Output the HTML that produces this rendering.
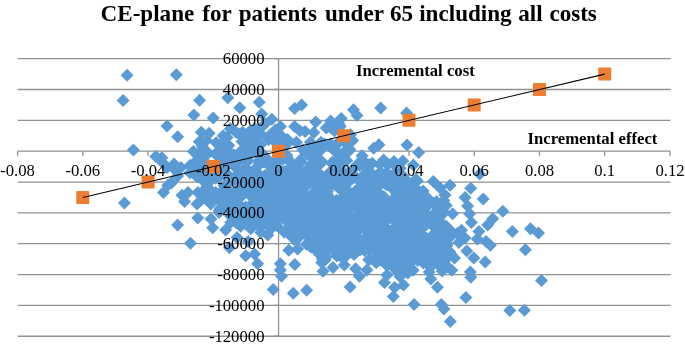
<!DOCTYPE html>
<html lang="en"><head><meta charset="utf-8"><title>CE-plane for patients under 65 including all costs</title>
<style>html,body{margin:0;padding:0;background:#fff}svg{display:block;will-change:transform}text{font-family:"Liberation Serif",serif;fill:#000}</style></head><body>
<svg width="685" height="347" viewBox="0 0 685 347">
<rect width="685" height="347" fill="#fff"/>
<path d="M17.6 58.66H670.6M17.6 89.50H670.6M17.6 120.35H670.6M17.6 182.03H670.6M17.6 212.88H670.6M17.6 243.72H670.6M17.6 274.56H670.6M17.6 305.40H670.6M17.6 336.25H670.6" stroke="#929292" stroke-width="1.3" fill="none"/>
<path d="M17.6 151.19H670.6M278.54 58.7V336.2M17.60 151.19v4.6M82.84 151.19v4.6M148.07 151.19v4.6M213.30 151.19v4.6M278.54 151.19v4.6M343.78 151.19v4.6M409.01 151.19v4.6M474.25 151.19v4.6M539.48 151.19v4.6M604.72 151.19v4.6M669.95 151.19v4.6M278.54 58.66h-4.5M278.54 89.50h-4.5M278.54 120.35h-4.5M278.54 151.19h-4.5M278.54 182.03h-4.5M278.54 212.88h-4.5M278.54 243.72h-4.5M278.54 274.56h-4.5M278.54 305.40h-4.5M278.54 336.25h-4.5" stroke="#929292" stroke-width="1.3" fill="none"/>
<path d="M210.8 197.6l6.5 6.5-6.5 6.5-6.5-6.5zM207.1 193.2l6.5 6.5-6.5 6.5-6.5-6.5zM438.4 204.0l6.5 6.5-6.5 6.5-6.5-6.5zM343.2 213.5l6.5 6.5-6.5 6.5-6.5-6.5zM334.4 124.2l6.5 6.5-6.5 6.5-6.5-6.5zM273.7 205.3l6.5 6.5-6.5 6.5-6.5-6.5zM231.5 190.3l6.5 6.5-6.5 6.5-6.5-6.5zM365.7 233.0l6.5 6.5-6.5 6.5-6.5-6.5zM372.8 206.6l6.5 6.5-6.5 6.5-6.5-6.5zM312.0 140.5l6.5 6.5-6.5 6.5-6.5-6.5zM308.8 199.7l6.5 6.5-6.5 6.5-6.5-6.5zM405.0 248.4l6.5 6.5-6.5 6.5-6.5-6.5zM237.8 150.5l6.5 6.5-6.5 6.5-6.5-6.5zM318.1 205.8l6.5 6.5-6.5 6.5-6.5-6.5zM371.5 194.4l6.5 6.5-6.5 6.5-6.5-6.5zM399.4 175.3l6.5 6.5-6.5 6.5-6.5-6.5zM282.3 170.9l6.5 6.5-6.5 6.5-6.5-6.5zM313.2 189.5l6.5 6.5-6.5 6.5-6.5-6.5zM218.6 167.6l6.5 6.5-6.5 6.5-6.5-6.5zM259.9 171.3l6.5 6.5-6.5 6.5-6.5-6.5zM392.7 197.1l6.5 6.5-6.5 6.5-6.5-6.5zM404.8 229.2l6.5 6.5-6.5 6.5-6.5-6.5zM326.6 169.6l6.5 6.5-6.5 6.5-6.5-6.5zM286.8 148.7l6.5 6.5-6.5 6.5-6.5-6.5zM426.1 244.8l6.5 6.5-6.5 6.5-6.5-6.5zM361.8 238.4l6.5 6.5-6.5 6.5-6.5-6.5zM395.4 230.8l6.5 6.5-6.5 6.5-6.5-6.5zM283.1 199.5l6.5 6.5-6.5 6.5-6.5-6.5zM257.5 159.9l6.5 6.5-6.5 6.5-6.5-6.5zM284.0 185.5l6.5 6.5-6.5 6.5-6.5-6.5zM315.1 226.9l6.5 6.5-6.5 6.5-6.5-6.5zM276.8 194.8l6.5 6.5-6.5 6.5-6.5-6.5zM337.7 153.0l6.5 6.5-6.5 6.5-6.5-6.5zM392.8 193.2l6.5 6.5-6.5 6.5-6.5-6.5zM389.6 255.9l6.5 6.5-6.5 6.5-6.5-6.5zM351.3 192.9l6.5 6.5-6.5 6.5-6.5-6.5zM372.1 184.6l6.5 6.5-6.5 6.5-6.5-6.5zM223.6 183.0l6.5 6.5-6.5 6.5-6.5-6.5zM395.8 253.5l6.5 6.5-6.5 6.5-6.5-6.5zM378.2 216.8l6.5 6.5-6.5 6.5-6.5-6.5zM304.2 194.4l6.5 6.5-6.5 6.5-6.5-6.5zM278.2 211.2l6.5 6.5-6.5 6.5-6.5-6.5zM397.0 265.1l6.5 6.5-6.5 6.5-6.5-6.5zM429.0 241.4l6.5 6.5-6.5 6.5-6.5-6.5zM340.4 223.1l6.5 6.5-6.5 6.5-6.5-6.5zM357.0 238.8l6.5 6.5-6.5 6.5-6.5-6.5zM416.3 184.8l6.5 6.5-6.5 6.5-6.5-6.5zM254.0 131.5l6.5 6.5-6.5 6.5-6.5-6.5zM205.1 145.8l6.5 6.5-6.5 6.5-6.5-6.5zM267.4 192.0l6.5 6.5-6.5 6.5-6.5-6.5zM404.9 181.5l6.5 6.5-6.5 6.5-6.5-6.5zM375.7 213.1l6.5 6.5-6.5 6.5-6.5-6.5zM258.5 139.8l6.5 6.5-6.5 6.5-6.5-6.5zM410.7 249.4l6.5 6.5-6.5 6.5-6.5-6.5zM265.3 152.0l6.5 6.5-6.5 6.5-6.5-6.5zM315.4 192.4l6.5 6.5-6.5 6.5-6.5-6.5zM329.6 230.8l6.5 6.5-6.5 6.5-6.5-6.5zM378.2 250.8l6.5 6.5-6.5 6.5-6.5-6.5zM409.2 252.8l6.5 6.5-6.5 6.5-6.5-6.5zM382.8 240.4l6.5 6.5-6.5 6.5-6.5-6.5zM401.2 242.6l6.5 6.5-6.5 6.5-6.5-6.5zM424.1 220.3l6.5 6.5-6.5 6.5-6.5-6.5zM337.2 211.8l6.5 6.5-6.5 6.5-6.5-6.5zM369.0 190.3l6.5 6.5-6.5 6.5-6.5-6.5zM399.4 230.5l6.5 6.5-6.5 6.5-6.5-6.5zM331.2 216.7l6.5 6.5-6.5 6.5-6.5-6.5zM383.6 153.6l6.5 6.5-6.5 6.5-6.5-6.5zM291.5 188.7l6.5 6.5-6.5 6.5-6.5-6.5zM391.4 210.1l6.5 6.5-6.5 6.5-6.5-6.5zM312.8 186.8l6.5 6.5-6.5 6.5-6.5-6.5zM405.2 264.6l6.5 6.5-6.5 6.5-6.5-6.5zM246.8 204.6l6.5 6.5-6.5 6.5-6.5-6.5zM309.2 161.3l6.5 6.5-6.5 6.5-6.5-6.5zM267.4 172.2l6.5 6.5-6.5 6.5-6.5-6.5zM285.8 180.8l6.5 6.5-6.5 6.5-6.5-6.5zM421.9 240.4l6.5 6.5-6.5 6.5-6.5-6.5zM334.8 226.0l6.5 6.5-6.5 6.5-6.5-6.5zM359.6 158.9l6.5 6.5-6.5 6.5-6.5-6.5zM314.8 167.8l6.5 6.5-6.5 6.5-6.5-6.5zM259.6 216.2l6.5 6.5-6.5 6.5-6.5-6.5zM336.9 175.6l6.5 6.5-6.5 6.5-6.5-6.5zM228.3 144.3l6.5 6.5-6.5 6.5-6.5-6.5zM259.2 202.8l6.5 6.5-6.5 6.5-6.5-6.5zM386.9 178.5l6.5 6.5-6.5 6.5-6.5-6.5zM328.3 172.9l6.5 6.5-6.5 6.5-6.5-6.5zM224.7 192.5l6.5 6.5-6.5 6.5-6.5-6.5zM412.7 249.8l6.5 6.5-6.5 6.5-6.5-6.5zM379.7 214.8l6.5 6.5-6.5 6.5-6.5-6.5zM310.9 200.0l6.5 6.5-6.5 6.5-6.5-6.5zM431.2 214.6l6.5 6.5-6.5 6.5-6.5-6.5zM315.6 150.9l6.5 6.5-6.5 6.5-6.5-6.5zM441.8 223.7l6.5 6.5-6.5 6.5-6.5-6.5zM367.4 179.6l6.5 6.5-6.5 6.5-6.5-6.5zM301.3 220.3l6.5 6.5-6.5 6.5-6.5-6.5zM399.2 229.1l6.5 6.5-6.5 6.5-6.5-6.5zM320.9 143.5l6.5 6.5-6.5 6.5-6.5-6.5zM300.4 217.6l6.5 6.5-6.5 6.5-6.5-6.5zM230.1 175.5l6.5 6.5-6.5 6.5-6.5-6.5zM364.8 173.2l6.5 6.5-6.5 6.5-6.5-6.5zM278.2 140.7l6.5 6.5-6.5 6.5-6.5-6.5zM405.7 181.5l6.5 6.5-6.5 6.5-6.5-6.5zM386.3 253.8l6.5 6.5-6.5 6.5-6.5-6.5zM274.3 157.2l6.5 6.5-6.5 6.5-6.5-6.5zM388.5 256.6l6.5 6.5-6.5 6.5-6.5-6.5zM257.3 181.1l6.5 6.5-6.5 6.5-6.5-6.5zM400.7 229.0l6.5 6.5-6.5 6.5-6.5-6.5zM392.9 208.6l6.5 6.5-6.5 6.5-6.5-6.5zM256.3 124.5l6.5 6.5-6.5 6.5-6.5-6.5zM260.9 127.5l6.5 6.5-6.5 6.5-6.5-6.5zM321.6 224.5l6.5 6.5-6.5 6.5-6.5-6.5zM252.9 179.1l6.5 6.5-6.5 6.5-6.5-6.5zM367.3 230.4l6.5 6.5-6.5 6.5-6.5-6.5zM243.8 152.9l6.5 6.5-6.5 6.5-6.5-6.5zM342.4 165.1l6.5 6.5-6.5 6.5-6.5-6.5zM410.5 256.2l6.5 6.5-6.5 6.5-6.5-6.5zM268.4 133.0l6.5 6.5-6.5 6.5-6.5-6.5zM347.0 210.6l6.5 6.5-6.5 6.5-6.5-6.5zM287.9 136.4l6.5 6.5-6.5 6.5-6.5-6.5zM258.3 207.4l6.5 6.5-6.5 6.5-6.5-6.5zM277.1 219.6l6.5 6.5-6.5 6.5-6.5-6.5zM334.5 124.3l6.5 6.5-6.5 6.5-6.5-6.5zM294.8 199.8l6.5 6.5-6.5 6.5-6.5-6.5zM298.5 158.4l6.5 6.5-6.5 6.5-6.5-6.5zM339.3 169.9l6.5 6.5-6.5 6.5-6.5-6.5zM311.8 139.7l6.5 6.5-6.5 6.5-6.5-6.5zM335.4 213.8l6.5 6.5-6.5 6.5-6.5-6.5zM288.4 192.7l6.5 6.5-6.5 6.5-6.5-6.5zM353.3 242.3l6.5 6.5-6.5 6.5-6.5-6.5zM248.7 176.5l6.5 6.5-6.5 6.5-6.5-6.5zM380.5 253.6l6.5 6.5-6.5 6.5-6.5-6.5zM338.2 231.9l6.5 6.5-6.5 6.5-6.5-6.5zM347.9 199.8l6.5 6.5-6.5 6.5-6.5-6.5zM271.6 179.6l6.5 6.5-6.5 6.5-6.5-6.5zM302.7 216.6l6.5 6.5-6.5 6.5-6.5-6.5zM352.9 190.4l6.5 6.5-6.5 6.5-6.5-6.5zM390.5 235.4l6.5 6.5-6.5 6.5-6.5-6.5zM238.7 187.8l6.5 6.5-6.5 6.5-6.5-6.5zM225.4 181.2l6.5 6.5-6.5 6.5-6.5-6.5zM306.9 193.6l6.5 6.5-6.5 6.5-6.5-6.5zM382.7 235.0l6.5 6.5-6.5 6.5-6.5-6.5zM206.1 192.6l6.5 6.5-6.5 6.5-6.5-6.5zM382.3 240.8l6.5 6.5-6.5 6.5-6.5-6.5zM368.7 253.3l6.5 6.5-6.5 6.5-6.5-6.5zM330.0 213.1l6.5 6.5-6.5 6.5-6.5-6.5zM419.0 200.6l6.5 6.5-6.5 6.5-6.5-6.5zM344.3 217.4l6.5 6.5-6.5 6.5-6.5-6.5zM230.8 210.0l6.5 6.5-6.5 6.5-6.5-6.5zM325.3 253.3l6.5 6.5-6.5 6.5-6.5-6.5zM251.1 215.7l6.5 6.5-6.5 6.5-6.5-6.5zM219.7 169.9l6.5 6.5-6.5 6.5-6.5-6.5zM343.7 205.8l6.5 6.5-6.5 6.5-6.5-6.5zM354.2 188.1l6.5 6.5-6.5 6.5-6.5-6.5zM418.5 235.7l6.5 6.5-6.5 6.5-6.5-6.5zM359.7 201.7l6.5 6.5-6.5 6.5-6.5-6.5zM243.9 208.8l6.5 6.5-6.5 6.5-6.5-6.5zM358.8 240.6l6.5 6.5-6.5 6.5-6.5-6.5zM272.4 161.0l6.5 6.5-6.5 6.5-6.5-6.5zM423.2 235.9l6.5 6.5-6.5 6.5-6.5-6.5zM309.6 149.5l6.5 6.5-6.5 6.5-6.5-6.5zM386.9 222.2l6.5 6.5-6.5 6.5-6.5-6.5zM356.0 221.9l6.5 6.5-6.5 6.5-6.5-6.5zM410.3 222.6l6.5 6.5-6.5 6.5-6.5-6.5zM305.7 226.8l6.5 6.5-6.5 6.5-6.5-6.5zM281.7 136.5l6.5 6.5-6.5 6.5-6.5-6.5zM356.8 222.5l6.5 6.5-6.5 6.5-6.5-6.5zM405.1 252.6l6.5 6.5-6.5 6.5-6.5-6.5zM219.9 146.4l6.5 6.5-6.5 6.5-6.5-6.5zM403.1 212.8l6.5 6.5-6.5 6.5-6.5-6.5zM356.2 159.0l6.5 6.5-6.5 6.5-6.5-6.5zM245.3 164.0l6.5 6.5-6.5 6.5-6.5-6.5zM378.1 171.5l6.5 6.5-6.5 6.5-6.5-6.5zM240.0 191.2l6.5 6.5-6.5 6.5-6.5-6.5zM373.3 236.5l6.5 6.5-6.5 6.5-6.5-6.5zM284.5 176.7l6.5 6.5-6.5 6.5-6.5-6.5zM252.7 185.9l6.5 6.5-6.5 6.5-6.5-6.5zM388.2 231.2l6.5 6.5-6.5 6.5-6.5-6.5zM282.6 165.1l6.5 6.5-6.5 6.5-6.5-6.5zM411.2 217.1l6.5 6.5-6.5 6.5-6.5-6.5zM232.6 152.9l6.5 6.5-6.5 6.5-6.5-6.5zM398.7 228.2l6.5 6.5-6.5 6.5-6.5-6.5zM243.0 213.4l6.5 6.5-6.5 6.5-6.5-6.5zM245.7 174.7l6.5 6.5-6.5 6.5-6.5-6.5zM372.3 192.1l6.5 6.5-6.5 6.5-6.5-6.5zM303.8 203.5l6.5 6.5-6.5 6.5-6.5-6.5zM420.8 234.5l6.5 6.5-6.5 6.5-6.5-6.5zM413.6 219.8l6.5 6.5-6.5 6.5-6.5-6.5zM377.4 212.1l6.5 6.5-6.5 6.5-6.5-6.5zM302.1 185.1l6.5 6.5-6.5 6.5-6.5-6.5zM298.4 219.2l6.5 6.5-6.5 6.5-6.5-6.5zM436.6 195.0l6.5 6.5-6.5 6.5-6.5-6.5zM341.4 198.4l6.5 6.5-6.5 6.5-6.5-6.5zM325.2 213.6l6.5 6.5-6.5 6.5-6.5-6.5zM294.0 232.7l6.5 6.5-6.5 6.5-6.5-6.5zM206.7 157.0l6.5 6.5-6.5 6.5-6.5-6.5zM301.3 222.7l6.5 6.5-6.5 6.5-6.5-6.5zM436.4 196.2l6.5 6.5-6.5 6.5-6.5-6.5zM400.4 175.3l6.5 6.5-6.5 6.5-6.5-6.5zM402.5 212.8l6.5 6.5-6.5 6.5-6.5-6.5zM404.2 187.1l6.5 6.5-6.5 6.5-6.5-6.5zM261.5 172.8l6.5 6.5-6.5 6.5-6.5-6.5zM302.8 143.3l6.5 6.5-6.5 6.5-6.5-6.5zM379.7 158.1l6.5 6.5-6.5 6.5-6.5-6.5zM270.5 188.8l6.5 6.5-6.5 6.5-6.5-6.5zM357.7 216.7l6.5 6.5-6.5 6.5-6.5-6.5zM433.5 246.9l6.5 6.5-6.5 6.5-6.5-6.5zM407.3 254.9l6.5 6.5-6.5 6.5-6.5-6.5zM362.5 153.3l6.5 6.5-6.5 6.5-6.5-6.5zM423.7 208.8l6.5 6.5-6.5 6.5-6.5-6.5zM396.9 244.5l6.5 6.5-6.5 6.5-6.5-6.5zM372.1 196.8l6.5 6.5-6.5 6.5-6.5-6.5zM336.3 155.5l6.5 6.5-6.5 6.5-6.5-6.5zM228.2 190.9l6.5 6.5-6.5 6.5-6.5-6.5zM321.5 198.1l6.5 6.5-6.5 6.5-6.5-6.5zM313.7 201.7l6.5 6.5-6.5 6.5-6.5-6.5zM357.6 213.1l6.5 6.5-6.5 6.5-6.5-6.5zM350.5 220.3l6.5 6.5-6.5 6.5-6.5-6.5zM287.2 188.1l6.5 6.5-6.5 6.5-6.5-6.5zM305.1 180.0l6.5 6.5-6.5 6.5-6.5-6.5zM297.0 192.6l6.5 6.5-6.5 6.5-6.5-6.5zM362.2 237.3l6.5 6.5-6.5 6.5-6.5-6.5zM357.1 236.1l6.5 6.5-6.5 6.5-6.5-6.5zM379.9 251.8l6.5 6.5-6.5 6.5-6.5-6.5zM204.9 161.1l6.5 6.5-6.5 6.5-6.5-6.5zM350.3 216.5l6.5 6.5-6.5 6.5-6.5-6.5zM428.6 209.3l6.5 6.5-6.5 6.5-6.5-6.5zM355.0 222.4l6.5 6.5-6.5 6.5-6.5-6.5zM311.0 232.7l6.5 6.5-6.5 6.5-6.5-6.5zM393.4 256.2l6.5 6.5-6.5 6.5-6.5-6.5zM396.5 201.6l6.5 6.5-6.5 6.5-6.5-6.5zM270.5 179.9l6.5 6.5-6.5 6.5-6.5-6.5zM304.0 214.0l6.5 6.5-6.5 6.5-6.5-6.5zM292.7 206.3l6.5 6.5-6.5 6.5-6.5-6.5zM247.2 138.0l6.5 6.5-6.5 6.5-6.5-6.5zM377.5 247.1l6.5 6.5-6.5 6.5-6.5-6.5zM341.5 182.5l6.5 6.5-6.5 6.5-6.5-6.5zM286.4 214.5l6.5 6.5-6.5 6.5-6.5-6.5zM437.7 236.1l6.5 6.5-6.5 6.5-6.5-6.5zM374.8 242.7l6.5 6.5-6.5 6.5-6.5-6.5zM408.1 207.7l6.5 6.5-6.5 6.5-6.5-6.5zM289.9 220.6l6.5 6.5-6.5 6.5-6.5-6.5zM425.0 239.7l6.5 6.5-6.5 6.5-6.5-6.5zM301.9 205.4l6.5 6.5-6.5 6.5-6.5-6.5zM408.6 240.3l6.5 6.5-6.5 6.5-6.5-6.5zM401.8 220.6l6.5 6.5-6.5 6.5-6.5-6.5zM387.0 258.9l6.5 6.5-6.5 6.5-6.5-6.5zM349.8 219.5l6.5 6.5-6.5 6.5-6.5-6.5zM397.8 185.8l6.5 6.5-6.5 6.5-6.5-6.5zM401.7 234.2l6.5 6.5-6.5 6.5-6.5-6.5zM327.7 188.4l6.5 6.5-6.5 6.5-6.5-6.5zM241.2 144.3l6.5 6.5-6.5 6.5-6.5-6.5zM296.6 194.7l6.5 6.5-6.5 6.5-6.5-6.5zM391.5 241.4l6.5 6.5-6.5 6.5-6.5-6.5zM239.0 127.5l6.5 6.5-6.5 6.5-6.5-6.5zM336.9 249.5l6.5 6.5-6.5 6.5-6.5-6.5zM438.3 255.5l6.5 6.5-6.5 6.5-6.5-6.5zM347.5 176.1l6.5 6.5-6.5 6.5-6.5-6.5zM338.8 213.8l6.5 6.5-6.5 6.5-6.5-6.5zM366.1 175.4l6.5 6.5-6.5 6.5-6.5-6.5zM376.5 214.7l6.5 6.5-6.5 6.5-6.5-6.5zM436.2 219.4l6.5 6.5-6.5 6.5-6.5-6.5zM345.8 232.0l6.5 6.5-6.5 6.5-6.5-6.5zM276.2 154.3l6.5 6.5-6.5 6.5-6.5-6.5zM317.1 140.6l6.5 6.5-6.5 6.5-6.5-6.5zM228.3 183.8l6.5 6.5-6.5 6.5-6.5-6.5zM433.5 245.0l6.5 6.5-6.5 6.5-6.5-6.5zM316.2 211.9l6.5 6.5-6.5 6.5-6.5-6.5zM261.3 178.3l6.5 6.5-6.5 6.5-6.5-6.5zM266.4 154.5l6.5 6.5-6.5 6.5-6.5-6.5zM280.6 136.2l6.5 6.5-6.5 6.5-6.5-6.5zM408.4 196.1l6.5 6.5-6.5 6.5-6.5-6.5zM248.7 203.1l6.5 6.5-6.5 6.5-6.5-6.5zM320.8 157.0l6.5 6.5-6.5 6.5-6.5-6.5zM351.2 224.2l6.5 6.5-6.5 6.5-6.5-6.5zM343.6 145.9l6.5 6.5-6.5 6.5-6.5-6.5zM416.8 190.9l6.5 6.5-6.5 6.5-6.5-6.5zM327.2 183.6l6.5 6.5-6.5 6.5-6.5-6.5zM404.3 248.6l6.5 6.5-6.5 6.5-6.5-6.5zM329.9 197.8l6.5 6.5-6.5 6.5-6.5-6.5zM347.8 203.9l6.5 6.5-6.5 6.5-6.5-6.5zM418.1 225.7l6.5 6.5-6.5 6.5-6.5-6.5zM224.0 191.0l6.5 6.5-6.5 6.5-6.5-6.5zM230.3 203.3l6.5 6.5-6.5 6.5-6.5-6.5zM394.0 167.0l6.5 6.5-6.5 6.5-6.5-6.5zM401.1 256.0l6.5 6.5-6.5 6.5-6.5-6.5zM301.8 212.6l6.5 6.5-6.5 6.5-6.5-6.5zM356.6 239.9l6.5 6.5-6.5 6.5-6.5-6.5zM330.8 137.5l6.5 6.5-6.5 6.5-6.5-6.5zM226.2 160.0l6.5 6.5-6.5 6.5-6.5-6.5zM267.0 152.2l6.5 6.5-6.5 6.5-6.5-6.5zM334.0 244.7l6.5 6.5-6.5 6.5-6.5-6.5zM340.2 215.3l6.5 6.5-6.5 6.5-6.5-6.5zM376.7 185.9l6.5 6.5-6.5 6.5-6.5-6.5zM351.3 187.2l6.5 6.5-6.5 6.5-6.5-6.5zM291.6 205.3l6.5 6.5-6.5 6.5-6.5-6.5zM254.0 200.8l6.5 6.5-6.5 6.5-6.5-6.5zM306.4 228.5l6.5 6.5-6.5 6.5-6.5-6.5zM326.6 229.0l6.5 6.5-6.5 6.5-6.5-6.5zM376.2 256.3l6.5 6.5-6.5 6.5-6.5-6.5zM391.1 205.3l6.5 6.5-6.5 6.5-6.5-6.5zM395.8 249.8l6.5 6.5-6.5 6.5-6.5-6.5zM290.7 184.6l6.5 6.5-6.5 6.5-6.5-6.5zM336.4 174.1l6.5 6.5-6.5 6.5-6.5-6.5zM396.6 246.2l6.5 6.5-6.5 6.5-6.5-6.5zM229.7 203.7l6.5 6.5-6.5 6.5-6.5-6.5zM409.9 263.1l6.5 6.5-6.5 6.5-6.5-6.5zM326.5 194.7l6.5 6.5-6.5 6.5-6.5-6.5zM367.9 195.9l6.5 6.5-6.5 6.5-6.5-6.5zM289.3 176.6l6.5 6.5-6.5 6.5-6.5-6.5zM318.5 182.7l6.5 6.5-6.5 6.5-6.5-6.5zM329.8 241.0l6.5 6.5-6.5 6.5-6.5-6.5zM406.8 194.0l6.5 6.5-6.5 6.5-6.5-6.5zM325.0 192.8l6.5 6.5-6.5 6.5-6.5-6.5zM239.4 212.2l6.5 6.5-6.5 6.5-6.5-6.5zM271.8 221.6l6.5 6.5-6.5 6.5-6.5-6.5zM344.4 218.1l6.5 6.5-6.5 6.5-6.5-6.5zM321.4 200.3l6.5 6.5-6.5 6.5-6.5-6.5zM341.4 178.2l6.5 6.5-6.5 6.5-6.5-6.5zM327.8 242.1l6.5 6.5-6.5 6.5-6.5-6.5zM284.0 140.8l6.5 6.5-6.5 6.5-6.5-6.5zM343.4 168.6l6.5 6.5-6.5 6.5-6.5-6.5zM306.3 210.6l6.5 6.5-6.5 6.5-6.5-6.5zM425.7 241.0l6.5 6.5-6.5 6.5-6.5-6.5zM317.9 237.4l6.5 6.5-6.5 6.5-6.5-6.5zM237.1 170.1l6.5 6.5-6.5 6.5-6.5-6.5zM292.3 177.0l6.5 6.5-6.5 6.5-6.5-6.5zM283.3 152.5l6.5 6.5-6.5 6.5-6.5-6.5zM265.7 151.3l6.5 6.5-6.5 6.5-6.5-6.5zM364.7 167.4l6.5 6.5-6.5 6.5-6.5-6.5zM344.8 171.5l6.5 6.5-6.5 6.5-6.5-6.5zM223.9 194.0l6.5 6.5-6.5 6.5-6.5-6.5zM292.1 216.4l6.5 6.5-6.5 6.5-6.5-6.5zM272.8 174.9l6.5 6.5-6.5 6.5-6.5-6.5zM275.5 217.2l6.5 6.5-6.5 6.5-6.5-6.5zM338.1 170.5l6.5 6.5-6.5 6.5-6.5-6.5zM393.5 251.3l6.5 6.5-6.5 6.5-6.5-6.5zM226.4 157.4l6.5 6.5-6.5 6.5-6.5-6.5zM368.7 217.4l6.5 6.5-6.5 6.5-6.5-6.5zM299.3 216.7l6.5 6.5-6.5 6.5-6.5-6.5zM283.5 212.0l6.5 6.5-6.5 6.5-6.5-6.5zM382.9 225.0l6.5 6.5-6.5 6.5-6.5-6.5zM270.8 173.5l6.5 6.5-6.5 6.5-6.5-6.5zM272.8 213.4l6.5 6.5-6.5 6.5-6.5-6.5zM410.3 202.9l6.5 6.5-6.5 6.5-6.5-6.5zM408.9 234.9l6.5 6.5-6.5 6.5-6.5-6.5zM371.8 229.0l6.5 6.5-6.5 6.5-6.5-6.5zM355.3 184.7l6.5 6.5-6.5 6.5-6.5-6.5zM373.5 180.9l6.5 6.5-6.5 6.5-6.5-6.5zM374.7 239.4l6.5 6.5-6.5 6.5-6.5-6.5zM357.8 198.8l6.5 6.5-6.5 6.5-6.5-6.5zM207.4 170.0l6.5 6.5-6.5 6.5-6.5-6.5zM244.4 162.6l6.5 6.5-6.5 6.5-6.5-6.5zM375.8 218.4l6.5 6.5-6.5 6.5-6.5-6.5zM254.8 194.4l6.5 6.5-6.5 6.5-6.5-6.5zM228.9 201.8l6.5 6.5-6.5 6.5-6.5-6.5zM404.0 199.5l6.5 6.5-6.5 6.5-6.5-6.5zM267.2 170.4l6.5 6.5-6.5 6.5-6.5-6.5zM207.7 158.0l6.5 6.5-6.5 6.5-6.5-6.5zM374.4 183.9l6.5 6.5-6.5 6.5-6.5-6.5zM276.4 187.1l6.5 6.5-6.5 6.5-6.5-6.5zM235.7 125.6l6.5 6.5-6.5 6.5-6.5-6.5zM450.0 230.8l6.5 6.5-6.5 6.5-6.5-6.5zM359.6 211.8l6.5 6.5-6.5 6.5-6.5-6.5zM361.7 153.5l6.5 6.5-6.5 6.5-6.5-6.5zM393.4 244.6l6.5 6.5-6.5 6.5-6.5-6.5zM396.0 243.2l6.5 6.5-6.5 6.5-6.5-6.5zM275.2 171.6l6.5 6.5-6.5 6.5-6.5-6.5zM355.3 241.6l6.5 6.5-6.5 6.5-6.5-6.5zM320.5 191.9l6.5 6.5-6.5 6.5-6.5-6.5zM269.9 204.6l6.5 6.5-6.5 6.5-6.5-6.5zM414.4 236.5l6.5 6.5-6.5 6.5-6.5-6.5zM265.6 217.1l6.5 6.5-6.5 6.5-6.5-6.5zM301.5 167.0l6.5 6.5-6.5 6.5-6.5-6.5zM234.8 160.3l6.5 6.5-6.5 6.5-6.5-6.5zM338.5 168.5l6.5 6.5-6.5 6.5-6.5-6.5zM214.1 164.7l6.5 6.5-6.5 6.5-6.5-6.5zM288.7 204.5l6.5 6.5-6.5 6.5-6.5-6.5zM329.8 202.0l6.5 6.5-6.5 6.5-6.5-6.5zM257.4 190.3l6.5 6.5-6.5 6.5-6.5-6.5zM250.9 203.3l6.5 6.5-6.5 6.5-6.5-6.5zM325.4 205.7l6.5 6.5-6.5 6.5-6.5-6.5zM416.5 199.8l6.5 6.5-6.5 6.5-6.5-6.5zM449.6 226.3l6.5 6.5-6.5 6.5-6.5-6.5zM407.9 175.3l6.5 6.5-6.5 6.5-6.5-6.5zM430.6 249.5l6.5 6.5-6.5 6.5-6.5-6.5zM368.9 242.5l6.5 6.5-6.5 6.5-6.5-6.5zM432.6 219.2l6.5 6.5-6.5 6.5-6.5-6.5zM343.2 132.1l6.5 6.5-6.5 6.5-6.5-6.5zM240.2 200.4l6.5 6.5-6.5 6.5-6.5-6.5zM370.7 173.5l6.5 6.5-6.5 6.5-6.5-6.5zM419.6 198.0l6.5 6.5-6.5 6.5-6.5-6.5zM402.1 261.6l6.5 6.5-6.5 6.5-6.5-6.5zM419.0 238.6l6.5 6.5-6.5 6.5-6.5-6.5zM368.7 175.3l6.5 6.5-6.5 6.5-6.5-6.5zM285.9 187.0l6.5 6.5-6.5 6.5-6.5-6.5zM292.8 169.3l6.5 6.5-6.5 6.5-6.5-6.5zM342.6 166.2l6.5 6.5-6.5 6.5-6.5-6.5zM260.1 202.7l6.5 6.5-6.5 6.5-6.5-6.5zM392.4 249.7l6.5 6.5-6.5 6.5-6.5-6.5zM356.6 212.9l6.5 6.5-6.5 6.5-6.5-6.5zM384.3 193.4l6.5 6.5-6.5 6.5-6.5-6.5zM283.1 199.9l6.5 6.5-6.5 6.5-6.5-6.5zM207.7 166.8l6.5 6.5-6.5 6.5-6.5-6.5zM287.5 152.2l6.5 6.5-6.5 6.5-6.5-6.5zM282.8 135.5l6.5 6.5-6.5 6.5-6.5-6.5zM418.5 184.7l6.5 6.5-6.5 6.5-6.5-6.5zM339.9 161.4l6.5 6.5-6.5 6.5-6.5-6.5zM209.2 161.2l6.5 6.5-6.5 6.5-6.5-6.5zM380.9 199.9l6.5 6.5-6.5 6.5-6.5-6.5zM263.7 154.4l6.5 6.5-6.5 6.5-6.5-6.5zM248.8 176.4l6.5 6.5-6.5 6.5-6.5-6.5zM442.4 207.7l6.5 6.5-6.5 6.5-6.5-6.5zM402.5 250.2l6.5 6.5-6.5 6.5-6.5-6.5zM279.0 191.1l6.5 6.5-6.5 6.5-6.5-6.5zM258.8 186.3l6.5 6.5-6.5 6.5-6.5-6.5zM380.3 165.5l6.5 6.5-6.5 6.5-6.5-6.5zM302.0 198.0l6.5 6.5-6.5 6.5-6.5-6.5zM336.3 216.4l6.5 6.5-6.5 6.5-6.5-6.5zM390.5 234.8l6.5 6.5-6.5 6.5-6.5-6.5zM362.4 234.5l6.5 6.5-6.5 6.5-6.5-6.5zM199.3 135.3l6.5 6.5-6.5 6.5-6.5-6.5zM322.5 200.6l6.5 6.5-6.5 6.5-6.5-6.5zM321.7 213.1l6.5 6.5-6.5 6.5-6.5-6.5zM400.1 185.8l6.5 6.5-6.5 6.5-6.5-6.5zM437.7 211.7l6.5 6.5-6.5 6.5-6.5-6.5zM248.3 202.8l6.5 6.5-6.5 6.5-6.5-6.5zM416.4 249.2l6.5 6.5-6.5 6.5-6.5-6.5zM387.4 242.0l6.5 6.5-6.5 6.5-6.5-6.5zM347.4 184.7l6.5 6.5-6.5 6.5-6.5-6.5zM394.8 248.3l6.5 6.5-6.5 6.5-6.5-6.5zM421.6 227.9l6.5 6.5-6.5 6.5-6.5-6.5zM238.1 155.5l6.5 6.5-6.5 6.5-6.5-6.5zM336.7 170.7l6.5 6.5-6.5 6.5-6.5-6.5zM370.9 215.7l6.5 6.5-6.5 6.5-6.5-6.5zM334.7 221.5l6.5 6.5-6.5 6.5-6.5-6.5zM419.3 225.8l6.5 6.5-6.5 6.5-6.5-6.5zM292.6 174.2l6.5 6.5-6.5 6.5-6.5-6.5zM350.8 172.9l6.5 6.5-6.5 6.5-6.5-6.5zM395.8 255.3l6.5 6.5-6.5 6.5-6.5-6.5zM413.9 193.6l6.5 6.5-6.5 6.5-6.5-6.5zM355.7 229.7l6.5 6.5-6.5 6.5-6.5-6.5zM377.2 175.5l6.5 6.5-6.5 6.5-6.5-6.5zM351.3 219.5l6.5 6.5-6.5 6.5-6.5-6.5zM355.5 198.7l6.5 6.5-6.5 6.5-6.5-6.5zM315.1 226.3l6.5 6.5-6.5 6.5-6.5-6.5zM315.9 148.8l6.5 6.5-6.5 6.5-6.5-6.5zM433.1 196.5l6.5 6.5-6.5 6.5-6.5-6.5zM329.1 240.6l6.5 6.5-6.5 6.5-6.5-6.5zM311.7 213.8l6.5 6.5-6.5 6.5-6.5-6.5zM424.4 249.0l6.5 6.5-6.5 6.5-6.5-6.5zM232.0 153.5l6.5 6.5-6.5 6.5-6.5-6.5zM327.6 184.7l6.5 6.5-6.5 6.5-6.5-6.5zM372.7 184.1l6.5 6.5-6.5 6.5-6.5-6.5zM399.6 232.1l6.5 6.5-6.5 6.5-6.5-6.5zM368.8 171.4l6.5 6.5-6.5 6.5-6.5-6.5zM253.8 172.0l6.5 6.5-6.5 6.5-6.5-6.5zM352.6 172.1l6.5 6.5-6.5 6.5-6.5-6.5zM402.8 169.1l6.5 6.5-6.5 6.5-6.5-6.5zM290.6 196.0l6.5 6.5-6.5 6.5-6.5-6.5zM426.3 231.8l6.5 6.5-6.5 6.5-6.5-6.5zM346.1 186.2l6.5 6.5-6.5 6.5-6.5-6.5zM410.3 178.8l6.5 6.5-6.5 6.5-6.5-6.5zM325.1 242.3l6.5 6.5-6.5 6.5-6.5-6.5zM384.5 176.8l6.5 6.5-6.5 6.5-6.5-6.5zM368.8 200.3l6.5 6.5-6.5 6.5-6.5-6.5zM376.9 189.3l6.5 6.5-6.5 6.5-6.5-6.5zM371.7 179.3l6.5 6.5-6.5 6.5-6.5-6.5zM263.4 155.2l6.5 6.5-6.5 6.5-6.5-6.5zM336.5 193.7l6.5 6.5-6.5 6.5-6.5-6.5zM400.5 247.3l6.5 6.5-6.5 6.5-6.5-6.5zM289.2 186.5l6.5 6.5-6.5 6.5-6.5-6.5zM330.6 177.9l6.5 6.5-6.5 6.5-6.5-6.5zM400.6 206.3l6.5 6.5-6.5 6.5-6.5-6.5zM304.8 213.6l6.5 6.5-6.5 6.5-6.5-6.5zM337.9 238.6l6.5 6.5-6.5 6.5-6.5-6.5zM367.2 219.1l6.5 6.5-6.5 6.5-6.5-6.5zM245.8 130.1l6.5 6.5-6.5 6.5-6.5-6.5zM395.9 261.9l6.5 6.5-6.5 6.5-6.5-6.5zM274.9 201.4l6.5 6.5-6.5 6.5-6.5-6.5zM250.1 199.1l6.5 6.5-6.5 6.5-6.5-6.5zM312.8 227.4l6.5 6.5-6.5 6.5-6.5-6.5zM436.3 196.1l6.5 6.5-6.5 6.5-6.5-6.5zM347.4 198.3l6.5 6.5-6.5 6.5-6.5-6.5zM278.6 184.2l6.5 6.5-6.5 6.5-6.5-6.5zM396.8 160.7l6.5 6.5-6.5 6.5-6.5-6.5zM396.9 206.8l6.5 6.5-6.5 6.5-6.5-6.5zM200.8 194.1l6.5 6.5-6.5 6.5-6.5-6.5zM342.3 169.2l6.5 6.5-6.5 6.5-6.5-6.5zM419.1 188.9l6.5 6.5-6.5 6.5-6.5-6.5zM222.4 191.4l6.5 6.5-6.5 6.5-6.5-6.5zM222.6 187.0l6.5 6.5-6.5 6.5-6.5-6.5zM331.2 193.1l6.5 6.5-6.5 6.5-6.5-6.5zM243.4 177.1l6.5 6.5-6.5 6.5-6.5-6.5zM322.5 252.5l6.5 6.5-6.5 6.5-6.5-6.5zM340.3 221.3l6.5 6.5-6.5 6.5-6.5-6.5zM252.8 206.8l6.5 6.5-6.5 6.5-6.5-6.5zM255.9 207.4l6.5 6.5-6.5 6.5-6.5-6.5zM371.9 240.8l6.5 6.5-6.5 6.5-6.5-6.5zM299.1 177.6l6.5 6.5-6.5 6.5-6.5-6.5zM281.5 136.3l6.5 6.5-6.5 6.5-6.5-6.5zM321.3 235.3l6.5 6.5-6.5 6.5-6.5-6.5zM387.4 213.1l6.5 6.5-6.5 6.5-6.5-6.5zM366.9 230.1l6.5 6.5-6.5 6.5-6.5-6.5zM385.7 243.5l6.5 6.5-6.5 6.5-6.5-6.5zM396.0 249.5l6.5 6.5-6.5 6.5-6.5-6.5zM370.2 224.6l6.5 6.5-6.5 6.5-6.5-6.5zM395.8 237.5l6.5 6.5-6.5 6.5-6.5-6.5zM436.8 242.5l6.5 6.5-6.5 6.5-6.5-6.5zM409.4 237.4l6.5 6.5-6.5 6.5-6.5-6.5zM300.9 208.2l6.5 6.5-6.5 6.5-6.5-6.5zM411.6 210.5l6.5 6.5-6.5 6.5-6.5-6.5zM306.9 217.0l6.5 6.5-6.5 6.5-6.5-6.5zM234.2 196.2l6.5 6.5-6.5 6.5-6.5-6.5zM310.2 240.0l6.5 6.5-6.5 6.5-6.5-6.5zM416.2 194.1l6.5 6.5-6.5 6.5-6.5-6.5zM289.7 195.4l6.5 6.5-6.5 6.5-6.5-6.5zM427.9 191.7l6.5 6.5-6.5 6.5-6.5-6.5zM409.1 220.4l6.5 6.5-6.5 6.5-6.5-6.5zM381.5 230.7l6.5 6.5-6.5 6.5-6.5-6.5zM344.8 203.9l6.5 6.5-6.5 6.5-6.5-6.5zM267.7 198.9l6.5 6.5-6.5 6.5-6.5-6.5zM376.5 221.6l6.5 6.5-6.5 6.5-6.5-6.5zM234.1 203.7l6.5 6.5-6.5 6.5-6.5-6.5zM398.4 168.3l6.5 6.5-6.5 6.5-6.5-6.5zM326.2 250.5l6.5 6.5-6.5 6.5-6.5-6.5zM243.3 164.2l6.5 6.5-6.5 6.5-6.5-6.5zM220.2 154.8l6.5 6.5-6.5 6.5-6.5-6.5zM357.6 235.2l6.5 6.5-6.5 6.5-6.5-6.5zM314.3 201.1l6.5 6.5-6.5 6.5-6.5-6.5zM430.5 196.5l6.5 6.5-6.5 6.5-6.5-6.5zM261.0 152.2l6.5 6.5-6.5 6.5-6.5-6.5zM334.6 231.3l6.5 6.5-6.5 6.5-6.5-6.5zM385.0 167.5l6.5 6.5-6.5 6.5-6.5-6.5zM401.5 168.7l6.5 6.5-6.5 6.5-6.5-6.5zM418.6 196.9l6.5 6.5-6.5 6.5-6.5-6.5zM226.7 167.0l6.5 6.5-6.5 6.5-6.5-6.5zM365.6 204.1l6.5 6.5-6.5 6.5-6.5-6.5zM397.0 244.5l6.5 6.5-6.5 6.5-6.5-6.5zM366.6 231.4l6.5 6.5-6.5 6.5-6.5-6.5zM405.5 215.1l6.5 6.5-6.5 6.5-6.5-6.5zM375.0 209.4l6.5 6.5-6.5 6.5-6.5-6.5zM247.4 149.2l6.5 6.5-6.5 6.5-6.5-6.5zM250.4 212.1l6.5 6.5-6.5 6.5-6.5-6.5zM278.1 202.6l6.5 6.5-6.5 6.5-6.5-6.5zM410.2 239.9l6.5 6.5-6.5 6.5-6.5-6.5zM380.4 205.2l6.5 6.5-6.5 6.5-6.5-6.5zM325.1 205.8l6.5 6.5-6.5 6.5-6.5-6.5zM401.1 263.5l6.5 6.5-6.5 6.5-6.5-6.5zM369.5 224.3l6.5 6.5-6.5 6.5-6.5-6.5zM326.2 182.5l6.5 6.5-6.5 6.5-6.5-6.5zM261.1 201.3l6.5 6.5-6.5 6.5-6.5-6.5zM208.3 146.4l6.5 6.5-6.5 6.5-6.5-6.5zM416.5 226.4l6.5 6.5-6.5 6.5-6.5-6.5zM260.6 169.6l6.5 6.5-6.5 6.5-6.5-6.5zM401.2 185.0l6.5 6.5-6.5 6.5-6.5-6.5zM429.0 237.7l6.5 6.5-6.5 6.5-6.5-6.5zM220.3 201.8l6.5 6.5-6.5 6.5-6.5-6.5zM246.4 153.6l6.5 6.5-6.5 6.5-6.5-6.5zM407.9 236.3l6.5 6.5-6.5 6.5-6.5-6.5zM219.0 206.1l6.5 6.5-6.5 6.5-6.5-6.5zM244.0 185.2l6.5 6.5-6.5 6.5-6.5-6.5zM357.5 224.1l6.5 6.5-6.5 6.5-6.5-6.5zM206.0 187.5l6.5 6.5-6.5 6.5-6.5-6.5zM367.0 225.1l6.5 6.5-6.5 6.5-6.5-6.5zM360.9 221.8l6.5 6.5-6.5 6.5-6.5-6.5zM406.2 212.8l6.5 6.5-6.5 6.5-6.5-6.5zM445.8 238.9l6.5 6.5-6.5 6.5-6.5-6.5zM260.4 138.3l6.5 6.5-6.5 6.5-6.5-6.5zM445.0 224.5l6.5 6.5-6.5 6.5-6.5-6.5zM423.3 256.5l6.5 6.5-6.5 6.5-6.5-6.5zM413.4 200.7l6.5 6.5-6.5 6.5-6.5-6.5zM322.6 210.6l6.5 6.5-6.5 6.5-6.5-6.5zM407.7 240.3l6.5 6.5-6.5 6.5-6.5-6.5zM245.9 181.0l6.5 6.5-6.5 6.5-6.5-6.5zM412.9 246.0l6.5 6.5-6.5 6.5-6.5-6.5zM347.7 195.1l6.5 6.5-6.5 6.5-6.5-6.5zM297.9 209.2l6.5 6.5-6.5 6.5-6.5-6.5zM306.9 224.0l6.5 6.5-6.5 6.5-6.5-6.5zM270.1 168.5l6.5 6.5-6.5 6.5-6.5-6.5zM390.2 244.2l6.5 6.5-6.5 6.5-6.5-6.5zM392.3 234.6l6.5 6.5-6.5 6.5-6.5-6.5zM398.6 197.0l6.5 6.5-6.5 6.5-6.5-6.5zM233.9 196.8l6.5 6.5-6.5 6.5-6.5-6.5zM215.3 147.4l6.5 6.5-6.5 6.5-6.5-6.5zM305.9 221.0l6.5 6.5-6.5 6.5-6.5-6.5zM386.0 231.2l6.5 6.5-6.5 6.5-6.5-6.5zM359.3 206.1l6.5 6.5-6.5 6.5-6.5-6.5zM347.4 222.2l6.5 6.5-6.5 6.5-6.5-6.5zM444.1 221.1l6.5 6.5-6.5 6.5-6.5-6.5zM218.0 161.5l6.5 6.5-6.5 6.5-6.5-6.5zM400.7 218.5l6.5 6.5-6.5 6.5-6.5-6.5zM344.6 217.0l6.5 6.5-6.5 6.5-6.5-6.5zM291.6 215.6l6.5 6.5-6.5 6.5-6.5-6.5zM250.0 124.5l6.5 6.5-6.5 6.5-6.5-6.5zM287.0 213.9l6.5 6.5-6.5 6.5-6.5-6.5zM364.5 244.1l6.5 6.5-6.5 6.5-6.5-6.5zM222.1 185.8l6.5 6.5-6.5 6.5-6.5-6.5zM385.5 201.7l6.5 6.5-6.5 6.5-6.5-6.5zM442.2 247.5l6.5 6.5-6.5 6.5-6.5-6.5zM437.4 195.9l6.5 6.5-6.5 6.5-6.5-6.5zM211.4 184.7l6.5 6.5-6.5 6.5-6.5-6.5zM245.4 217.3l6.5 6.5-6.5 6.5-6.5-6.5zM317.2 142.4l6.5 6.5-6.5 6.5-6.5-6.5zM361.8 194.3l6.5 6.5-6.5 6.5-6.5-6.5zM314.3 229.3l6.5 6.5-6.5 6.5-6.5-6.5zM252.9 191.8l6.5 6.5-6.5 6.5-6.5-6.5zM296.5 219.8l6.5 6.5-6.5 6.5-6.5-6.5zM275.7 177.6l6.5 6.5-6.5 6.5-6.5-6.5zM259.0 184.9l6.5 6.5-6.5 6.5-6.5-6.5zM343.2 251.9l6.5 6.5-6.5 6.5-6.5-6.5zM412.7 239.6l6.5 6.5-6.5 6.5-6.5-6.5zM363.1 205.4l6.5 6.5-6.5 6.5-6.5-6.5zM328.2 219.5l6.5 6.5-6.5 6.5-6.5-6.5zM384.7 211.3l6.5 6.5-6.5 6.5-6.5-6.5zM366.7 238.4l6.5 6.5-6.5 6.5-6.5-6.5zM315.6 219.6l6.5 6.5-6.5 6.5-6.5-6.5zM249.9 147.8l6.5 6.5-6.5 6.5-6.5-6.5zM437.0 203.9l6.5 6.5-6.5 6.5-6.5-6.5zM375.2 182.3l6.5 6.5-6.5 6.5-6.5-6.5zM391.4 244.0l6.5 6.5-6.5 6.5-6.5-6.5zM357.0 223.8l6.5 6.5-6.5 6.5-6.5-6.5zM345.1 145.2l6.5 6.5-6.5 6.5-6.5-6.5zM331.1 227.0l6.5 6.5-6.5 6.5-6.5-6.5zM275.2 179.2l6.5 6.5-6.5 6.5-6.5-6.5zM259.2 123.0l6.5 6.5-6.5 6.5-6.5-6.5zM401.0 237.1l6.5 6.5-6.5 6.5-6.5-6.5zM338.9 135.9l6.5 6.5-6.5 6.5-6.5-6.5zM330.6 226.8l6.5 6.5-6.5 6.5-6.5-6.5zM358.3 221.6l6.5 6.5-6.5 6.5-6.5-6.5zM272.9 217.2l6.5 6.5-6.5 6.5-6.5-6.5zM407.0 225.5l6.5 6.5-6.5 6.5-6.5-6.5zM350.4 128.3l6.5 6.5-6.5 6.5-6.5-6.5zM420.1 186.1l6.5 6.5-6.5 6.5-6.5-6.5zM223.1 193.1l6.5 6.5-6.5 6.5-6.5-6.5zM210.2 174.5l6.5 6.5-6.5 6.5-6.5-6.5zM257.7 218.1l6.5 6.5-6.5 6.5-6.5-6.5zM274.7 188.4l6.5 6.5-6.5 6.5-6.5-6.5zM392.3 172.1l6.5 6.5-6.5 6.5-6.5-6.5zM357.6 157.7l6.5 6.5-6.5 6.5-6.5-6.5zM225.5 186.7l6.5 6.5-6.5 6.5-6.5-6.5zM392.4 182.3l6.5 6.5-6.5 6.5-6.5-6.5zM227.1 131.0l6.5 6.5-6.5 6.5-6.5-6.5zM234.6 196.9l6.5 6.5-6.5 6.5-6.5-6.5zM302.7 166.9l6.5 6.5-6.5 6.5-6.5-6.5zM423.9 254.7l6.5 6.5-6.5 6.5-6.5-6.5zM440.7 208.1l6.5 6.5-6.5 6.5-6.5-6.5zM313.0 225.5l6.5 6.5-6.5 6.5-6.5-6.5zM280.1 152.9l6.5 6.5-6.5 6.5-6.5-6.5zM405.6 248.3l6.5 6.5-6.5 6.5-6.5-6.5zM412.6 241.4l6.5 6.5-6.5 6.5-6.5-6.5zM287.1 172.6l6.5 6.5-6.5 6.5-6.5-6.5zM381.3 231.5l6.5 6.5-6.5 6.5-6.5-6.5zM257.8 216.2l6.5 6.5-6.5 6.5-6.5-6.5zM412.4 250.7l6.5 6.5-6.5 6.5-6.5-6.5zM418.2 199.4l6.5 6.5-6.5 6.5-6.5-6.5zM395.4 249.3l6.5 6.5-6.5 6.5-6.5-6.5zM280.5 153.1l6.5 6.5-6.5 6.5-6.5-6.5zM251.0 125.5l6.5 6.5-6.5 6.5-6.5-6.5zM407.6 194.9l6.5 6.5-6.5 6.5-6.5-6.5zM405.3 236.8l6.5 6.5-6.5 6.5-6.5-6.5zM240.6 199.3l6.5 6.5-6.5 6.5-6.5-6.5zM337.9 237.8l6.5 6.5-6.5 6.5-6.5-6.5zM259.4 157.3l6.5 6.5-6.5 6.5-6.5-6.5zM325.4 187.1l6.5 6.5-6.5 6.5-6.5-6.5zM378.4 230.5l6.5 6.5-6.5 6.5-6.5-6.5zM258.5 194.6l6.5 6.5-6.5 6.5-6.5-6.5zM244.5 205.3l6.5 6.5-6.5 6.5-6.5-6.5zM386.8 224.9l6.5 6.5-6.5 6.5-6.5-6.5zM399.2 219.5l6.5 6.5-6.5 6.5-6.5-6.5zM311.6 213.5l6.5 6.5-6.5 6.5-6.5-6.5zM255.7 145.3l6.5 6.5-6.5 6.5-6.5-6.5zM298.6 210.3l6.5 6.5-6.5 6.5-6.5-6.5zM234.1 148.4l6.5 6.5-6.5 6.5-6.5-6.5zM239.7 188.9l6.5 6.5-6.5 6.5-6.5-6.5zM345.9 136.9l6.5 6.5-6.5 6.5-6.5-6.5zM284.1 180.4l6.5 6.5-6.5 6.5-6.5-6.5zM371.6 175.2l6.5 6.5-6.5 6.5-6.5-6.5zM416.7 203.2l6.5 6.5-6.5 6.5-6.5-6.5zM412.9 227.4l6.5 6.5-6.5 6.5-6.5-6.5zM296.4 181.5l6.5 6.5-6.5 6.5-6.5-6.5zM336.1 217.2l6.5 6.5-6.5 6.5-6.5-6.5zM397.7 206.0l6.5 6.5-6.5 6.5-6.5-6.5zM334.8 176.9l6.5 6.5-6.5 6.5-6.5-6.5zM276.0 188.8l6.5 6.5-6.5 6.5-6.5-6.5zM358.2 188.4l6.5 6.5-6.5 6.5-6.5-6.5zM292.7 208.9l6.5 6.5-6.5 6.5-6.5-6.5zM259.8 171.9l6.5 6.5-6.5 6.5-6.5-6.5zM332.1 157.3l6.5 6.5-6.5 6.5-6.5-6.5zM230.2 149.8l6.5 6.5-6.5 6.5-6.5-6.5zM415.2 174.3l6.5 6.5-6.5 6.5-6.5-6.5zM419.0 231.3l6.5 6.5-6.5 6.5-6.5-6.5zM206.5 133.8l6.5 6.5-6.5 6.5-6.5-6.5zM376.2 212.2l6.5 6.5-6.5 6.5-6.5-6.5zM305.0 175.1l6.5 6.5-6.5 6.5-6.5-6.5zM329.9 220.0l6.5 6.5-6.5 6.5-6.5-6.5zM348.3 166.7l6.5 6.5-6.5 6.5-6.5-6.5zM337.8 136.6l6.5 6.5-6.5 6.5-6.5-6.5zM291.7 221.6l6.5 6.5-6.5 6.5-6.5-6.5zM400.5 236.3l6.5 6.5-6.5 6.5-6.5-6.5zM299.7 218.2l6.5 6.5-6.5 6.5-6.5-6.5zM352.0 163.5l6.5 6.5-6.5 6.5-6.5-6.5zM398.0 236.7l6.5 6.5-6.5 6.5-6.5-6.5zM389.9 203.4l6.5 6.5-6.5 6.5-6.5-6.5zM218.8 157.4l6.5 6.5-6.5 6.5-6.5-6.5zM320.4 226.4l6.5 6.5-6.5 6.5-6.5-6.5zM362.1 157.6l6.5 6.5-6.5 6.5-6.5-6.5zM340.7 239.8l6.5 6.5-6.5 6.5-6.5-6.5zM332.6 229.3l6.5 6.5-6.5 6.5-6.5-6.5zM357.6 172.9l6.5 6.5-6.5 6.5-6.5-6.5zM312.8 187.2l6.5 6.5-6.5 6.5-6.5-6.5zM315.2 236.3l6.5 6.5-6.5 6.5-6.5-6.5zM392.5 212.3l6.5 6.5-6.5 6.5-6.5-6.5zM414.3 183.2l6.5 6.5-6.5 6.5-6.5-6.5zM429.6 239.4l6.5 6.5-6.5 6.5-6.5-6.5zM336.1 177.3l6.5 6.5-6.5 6.5-6.5-6.5zM227.6 187.4l6.5 6.5-6.5 6.5-6.5-6.5zM261.6 171.5l6.5 6.5-6.5 6.5-6.5-6.5zM390.1 205.9l6.5 6.5-6.5 6.5-6.5-6.5zM292.1 199.4l6.5 6.5-6.5 6.5-6.5-6.5zM199.5 146.2l6.5 6.5-6.5 6.5-6.5-6.5zM265.9 212.1l6.5 6.5-6.5 6.5-6.5-6.5zM438.5 220.7l6.5 6.5-6.5 6.5-6.5-6.5zM438.8 212.8l6.5 6.5-6.5 6.5-6.5-6.5zM416.3 218.3l6.5 6.5-6.5 6.5-6.5-6.5zM366.0 220.6l6.5 6.5-6.5 6.5-6.5-6.5zM273.4 202.6l6.5 6.5-6.5 6.5-6.5-6.5zM345.3 242.3l6.5 6.5-6.5 6.5-6.5-6.5zM297.3 222.6l6.5 6.5-6.5 6.5-6.5-6.5zM407.9 266.6l6.5 6.5-6.5 6.5-6.5-6.5zM386.0 156.4l6.5 6.5-6.5 6.5-6.5-6.5zM354.1 215.8l6.5 6.5-6.5 6.5-6.5-6.5zM380.8 199.9l6.5 6.5-6.5 6.5-6.5-6.5zM228.8 139.0l6.5 6.5-6.5 6.5-6.5-6.5zM345.0 238.6l6.5 6.5-6.5 6.5-6.5-6.5zM322.7 203.5l6.5 6.5-6.5 6.5-6.5-6.5zM299.3 198.8l6.5 6.5-6.5 6.5-6.5-6.5zM207.1 180.0l6.5 6.5-6.5 6.5-6.5-6.5zM349.0 142.5l6.5 6.5-6.5 6.5-6.5-6.5zM213.4 165.9l6.5 6.5-6.5 6.5-6.5-6.5zM360.7 180.2l6.5 6.5-6.5 6.5-6.5-6.5zM375.6 181.0l6.5 6.5-6.5 6.5-6.5-6.5zM207.2 193.1l6.5 6.5-6.5 6.5-6.5-6.5zM378.4 193.6l6.5 6.5-6.5 6.5-6.5-6.5zM261.2 218.5l6.5 6.5-6.5 6.5-6.5-6.5zM296.2 221.2l6.5 6.5-6.5 6.5-6.5-6.5zM218.0 192.4l6.5 6.5-6.5 6.5-6.5-6.5zM403.8 187.9l6.5 6.5-6.5 6.5-6.5-6.5zM373.3 204.1l6.5 6.5-6.5 6.5-6.5-6.5zM287.3 224.9l6.5 6.5-6.5 6.5-6.5-6.5zM380.8 248.5l6.5 6.5-6.5 6.5-6.5-6.5zM291.0 218.6l6.5 6.5-6.5 6.5-6.5-6.5zM317.6 166.8l6.5 6.5-6.5 6.5-6.5-6.5zM324.7 205.6l6.5 6.5-6.5 6.5-6.5-6.5zM264.1 192.4l6.5 6.5-6.5 6.5-6.5-6.5zM300.9 217.4l6.5 6.5-6.5 6.5-6.5-6.5zM375.0 235.6l6.5 6.5-6.5 6.5-6.5-6.5zM324.8 172.7l6.5 6.5-6.5 6.5-6.5-6.5zM296.5 224.3l6.5 6.5-6.5 6.5-6.5-6.5zM317.5 227.8l6.5 6.5-6.5 6.5-6.5-6.5zM309.5 170.0l6.5 6.5-6.5 6.5-6.5-6.5zM362.2 219.3l6.5 6.5-6.5 6.5-6.5-6.5zM372.3 156.8l6.5 6.5-6.5 6.5-6.5-6.5zM328.4 218.4l6.5 6.5-6.5 6.5-6.5-6.5zM383.6 190.1l6.5 6.5-6.5 6.5-6.5-6.5zM262.2 190.0l6.5 6.5-6.5 6.5-6.5-6.5zM306.2 179.8l6.5 6.5-6.5 6.5-6.5-6.5zM392.9 172.6l6.5 6.5-6.5 6.5-6.5-6.5zM346.8 154.1l6.5 6.5-6.5 6.5-6.5-6.5zM293.4 173.3l6.5 6.5-6.5 6.5-6.5-6.5zM367.3 209.2l6.5 6.5-6.5 6.5-6.5-6.5zM344.4 203.6l6.5 6.5-6.5 6.5-6.5-6.5zM348.5 193.6l6.5 6.5-6.5 6.5-6.5-6.5zM247.3 162.8l6.5 6.5-6.5 6.5-6.5-6.5zM255.3 205.5l6.5 6.5-6.5 6.5-6.5-6.5zM206.1 173.4l6.5 6.5-6.5 6.5-6.5-6.5zM354.5 235.1l6.5 6.5-6.5 6.5-6.5-6.5zM215.6 186.1l6.5 6.5-6.5 6.5-6.5-6.5zM215.7 171.7l6.5 6.5-6.5 6.5-6.5-6.5zM236.0 193.6l6.5 6.5-6.5 6.5-6.5-6.5zM338.5 158.5l6.5 6.5-6.5 6.5-6.5-6.5zM330.3 165.3l6.5 6.5-6.5 6.5-6.5-6.5zM364.8 183.7l6.5 6.5-6.5 6.5-6.5-6.5zM289.5 228.2l6.5 6.5-6.5 6.5-6.5-6.5zM369.4 219.2l6.5 6.5-6.5 6.5-6.5-6.5zM314.8 145.1l6.5 6.5-6.5 6.5-6.5-6.5zM359.8 222.0l6.5 6.5-6.5 6.5-6.5-6.5zM273.6 199.9l6.5 6.5-6.5 6.5-6.5-6.5zM317.7 210.1l6.5 6.5-6.5 6.5-6.5-6.5zM352.3 235.4l6.5 6.5-6.5 6.5-6.5-6.5zM339.3 231.2l6.5 6.5-6.5 6.5-6.5-6.5zM405.8 215.7l6.5 6.5-6.5 6.5-6.5-6.5zM371.0 197.1l6.5 6.5-6.5 6.5-6.5-6.5zM306.4 237.8l6.5 6.5-6.5 6.5-6.5-6.5zM335.6 209.4l6.5 6.5-6.5 6.5-6.5-6.5zM312.6 236.3l6.5 6.5-6.5 6.5-6.5-6.5zM372.7 175.9l6.5 6.5-6.5 6.5-6.5-6.5zM287.7 193.5l6.5 6.5-6.5 6.5-6.5-6.5zM385.7 250.3l6.5 6.5-6.5 6.5-6.5-6.5zM363.1 177.4l6.5 6.5-6.5 6.5-6.5-6.5zM314.7 193.1l6.5 6.5-6.5 6.5-6.5-6.5zM317.4 172.9l6.5 6.5-6.5 6.5-6.5-6.5zM248.6 182.3l6.5 6.5-6.5 6.5-6.5-6.5zM335.6 207.7l6.5 6.5-6.5 6.5-6.5-6.5zM396.5 219.6l6.5 6.5-6.5 6.5-6.5-6.5zM305.5 218.9l6.5 6.5-6.5 6.5-6.5-6.5zM324.5 137.6l6.5 6.5-6.5 6.5-6.5-6.5zM417.3 174.6l6.5 6.5-6.5 6.5-6.5-6.5zM239.6 204.0l6.5 6.5-6.5 6.5-6.5-6.5zM315.5 197.8l6.5 6.5-6.5 6.5-6.5-6.5zM323.0 244.2l6.5 6.5-6.5 6.5-6.5-6.5zM340.2 197.9l6.5 6.5-6.5 6.5-6.5-6.5zM251.3 203.3l6.5 6.5-6.5 6.5-6.5-6.5zM288.6 188.9l6.5 6.5-6.5 6.5-6.5-6.5zM359.3 221.6l6.5 6.5-6.5 6.5-6.5-6.5zM335.2 228.1l6.5 6.5-6.5 6.5-6.5-6.5zM410.1 249.4l6.5 6.5-6.5 6.5-6.5-6.5zM214.4 190.4l6.5 6.5-6.5 6.5-6.5-6.5zM270.0 186.0l6.5 6.5-6.5 6.5-6.5-6.5zM397.0 226.5l6.5 6.5-6.5 6.5-6.5-6.5zM294.0 162.9l6.5 6.5-6.5 6.5-6.5-6.5zM363.8 201.3l6.5 6.5-6.5 6.5-6.5-6.5zM355.0 212.5l6.5 6.5-6.5 6.5-6.5-6.5zM377.3 227.4l6.5 6.5-6.5 6.5-6.5-6.5zM359.1 216.3l6.5 6.5-6.5 6.5-6.5-6.5zM276.5 207.1l6.5 6.5-6.5 6.5-6.5-6.5zM271.5 199.1l6.5 6.5-6.5 6.5-6.5-6.5zM322.3 178.8l6.5 6.5-6.5 6.5-6.5-6.5zM291.6 182.0l6.5 6.5-6.5 6.5-6.5-6.5zM360.0 243.5l6.5 6.5-6.5 6.5-6.5-6.5zM388.4 157.7l6.5 6.5-6.5 6.5-6.5-6.5zM337.8 179.0l6.5 6.5-6.5 6.5-6.5-6.5zM270.7 205.3l6.5 6.5-6.5 6.5-6.5-6.5zM224.9 187.9l6.5 6.5-6.5 6.5-6.5-6.5zM231.3 149.0l6.5 6.5-6.5 6.5-6.5-6.5zM300.4 153.5l6.5 6.5-6.5 6.5-6.5-6.5zM347.4 248.3l6.5 6.5-6.5 6.5-6.5-6.5zM344.8 226.3l6.5 6.5-6.5 6.5-6.5-6.5zM265.2 205.3l6.5 6.5-6.5 6.5-6.5-6.5zM263.5 214.1l6.5 6.5-6.5 6.5-6.5-6.5zM400.3 191.3l6.5 6.5-6.5 6.5-6.5-6.5zM221.9 193.4l6.5 6.5-6.5 6.5-6.5-6.5zM379.1 172.4l6.5 6.5-6.5 6.5-6.5-6.5zM360.4 240.0l6.5 6.5-6.5 6.5-6.5-6.5zM242.4 186.2l6.5 6.5-6.5 6.5-6.5-6.5zM219.2 188.2l6.5 6.5-6.5 6.5-6.5-6.5zM293.7 180.3l6.5 6.5-6.5 6.5-6.5-6.5zM373.0 229.3l6.5 6.5-6.5 6.5-6.5-6.5zM296.6 202.8l6.5 6.5-6.5 6.5-6.5-6.5zM396.7 188.2l6.5 6.5-6.5 6.5-6.5-6.5zM411.1 245.4l6.5 6.5-6.5 6.5-6.5-6.5zM247.1 166.7l6.5 6.5-6.5 6.5-6.5-6.5zM270.7 156.0l6.5 6.5-6.5 6.5-6.5-6.5zM416.0 172.7l6.5 6.5-6.5 6.5-6.5-6.5zM343.3 192.6l6.5 6.5-6.5 6.5-6.5-6.5zM376.9 240.0l6.5 6.5-6.5 6.5-6.5-6.5zM334.9 240.5l6.5 6.5-6.5 6.5-6.5-6.5zM332.3 155.7l6.5 6.5-6.5 6.5-6.5-6.5zM341.0 235.3l6.5 6.5-6.5 6.5-6.5-6.5zM403.2 202.3l6.5 6.5-6.5 6.5-6.5-6.5zM435.7 235.1l6.5 6.5-6.5 6.5-6.5-6.5zM312.1 232.2l6.5 6.5-6.5 6.5-6.5-6.5zM369.8 252.8l6.5 6.5-6.5 6.5-6.5-6.5zM227.3 190.9l6.5 6.5-6.5 6.5-6.5-6.5zM394.7 205.4l6.5 6.5-6.5 6.5-6.5-6.5zM271.3 190.7l6.5 6.5-6.5 6.5-6.5-6.5zM359.9 192.8l6.5 6.5-6.5 6.5-6.5-6.5zM244.7 166.5l6.5 6.5-6.5 6.5-6.5-6.5zM409.6 205.3l6.5 6.5-6.5 6.5-6.5-6.5zM260.0 210.7l6.5 6.5-6.5 6.5-6.5-6.5zM333.0 172.7l6.5 6.5-6.5 6.5-6.5-6.5zM400.1 207.2l6.5 6.5-6.5 6.5-6.5-6.5zM420.4 217.6l6.5 6.5-6.5 6.5-6.5-6.5zM256.4 203.9l6.5 6.5-6.5 6.5-6.5-6.5zM335.6 227.2l6.5 6.5-6.5 6.5-6.5-6.5zM354.1 188.6l6.5 6.5-6.5 6.5-6.5-6.5zM330.7 223.8l6.5 6.5-6.5 6.5-6.5-6.5zM360.5 238.5l6.5 6.5-6.5 6.5-6.5-6.5zM329.5 208.4l6.5 6.5-6.5 6.5-6.5-6.5zM394.6 262.0l6.5 6.5-6.5 6.5-6.5-6.5zM326.2 174.3l6.5 6.5-6.5 6.5-6.5-6.5zM337.2 234.5l6.5 6.5-6.5 6.5-6.5-6.5zM277.7 138.6l6.5 6.5-6.5 6.5-6.5-6.5zM436.3 240.1l6.5 6.5-6.5 6.5-6.5-6.5zM391.3 234.3l6.5 6.5-6.5 6.5-6.5-6.5zM369.7 220.6l6.5 6.5-6.5 6.5-6.5-6.5zM339.4 157.2l6.5 6.5-6.5 6.5-6.5-6.5zM373.3 218.8l6.5 6.5-6.5 6.5-6.5-6.5zM394.4 233.3l6.5 6.5-6.5 6.5-6.5-6.5zM313.3 240.9l6.5 6.5-6.5 6.5-6.5-6.5zM200.1 167.3l6.5 6.5-6.5 6.5-6.5-6.5zM397.1 225.2l6.5 6.5-6.5 6.5-6.5-6.5zM330.2 222.9l6.5 6.5-6.5 6.5-6.5-6.5zM292.1 159.9l6.5 6.5-6.5 6.5-6.5-6.5zM358.0 189.0l6.5 6.5-6.5 6.5-6.5-6.5zM308.9 202.4l6.5 6.5-6.5 6.5-6.5-6.5zM258.7 154.6l6.5 6.5-6.5 6.5-6.5-6.5zM322.5 233.6l6.5 6.5-6.5 6.5-6.5-6.5zM272.0 194.3l6.5 6.5-6.5 6.5-6.5-6.5zM313.8 178.2l6.5 6.5-6.5 6.5-6.5-6.5zM400.0 227.8l6.5 6.5-6.5 6.5-6.5-6.5zM289.6 178.8l6.5 6.5-6.5 6.5-6.5-6.5zM356.6 171.2l6.5 6.5-6.5 6.5-6.5-6.5zM299.5 168.9l6.5 6.5-6.5 6.5-6.5-6.5zM345.7 198.6l6.5 6.5-6.5 6.5-6.5-6.5zM338.4 146.6l6.5 6.5-6.5 6.5-6.5-6.5zM394.9 183.0l6.5 6.5-6.5 6.5-6.5-6.5zM330.6 121.1l6.5 6.5-6.5 6.5-6.5-6.5zM365.6 221.3l6.5 6.5-6.5 6.5-6.5-6.5zM431.0 241.6l6.5 6.5-6.5 6.5-6.5-6.5zM362.1 149.3l6.5 6.5-6.5 6.5-6.5-6.5zM252.6 143.3l6.5 6.5-6.5 6.5-6.5-6.5zM346.9 215.9l6.5 6.5-6.5 6.5-6.5-6.5zM366.8 197.0l6.5 6.5-6.5 6.5-6.5-6.5zM218.0 166.3l6.5 6.5-6.5 6.5-6.5-6.5zM395.5 225.9l6.5 6.5-6.5 6.5-6.5-6.5zM341.0 240.9l6.5 6.5-6.5 6.5-6.5-6.5zM335.1 231.6l6.5 6.5-6.5 6.5-6.5-6.5zM248.7 187.6l6.5 6.5-6.5 6.5-6.5-6.5zM347.4 227.5l6.5 6.5-6.5 6.5-6.5-6.5zM272.8 167.7l6.5 6.5-6.5 6.5-6.5-6.5zM387.0 222.3l6.5 6.5-6.5 6.5-6.5-6.5zM277.8 164.3l6.5 6.5-6.5 6.5-6.5-6.5zM262.8 147.4l6.5 6.5-6.5 6.5-6.5-6.5zM287.5 133.0l6.5 6.5-6.5 6.5-6.5-6.5zM257.0 204.1l6.5 6.5-6.5 6.5-6.5-6.5zM271.3 196.0l6.5 6.5-6.5 6.5-6.5-6.5zM397.7 201.6l6.5 6.5-6.5 6.5-6.5-6.5zM202.7 157.0l6.5 6.5-6.5 6.5-6.5-6.5zM230.7 196.4l6.5 6.5-6.5 6.5-6.5-6.5zM354.0 248.0l6.5 6.5-6.5 6.5-6.5-6.5zM393.3 230.7l6.5 6.5-6.5 6.5-6.5-6.5zM298.8 230.9l6.5 6.5-6.5 6.5-6.5-6.5zM270.3 199.0l6.5 6.5-6.5 6.5-6.5-6.5zM381.2 208.4l6.5 6.5-6.5 6.5-6.5-6.5zM346.7 240.8l6.5 6.5-6.5 6.5-6.5-6.5zM364.9 204.9l6.5 6.5-6.5 6.5-6.5-6.5zM410.7 227.9l6.5 6.5-6.5 6.5-6.5-6.5zM372.8 190.9l6.5 6.5-6.5 6.5-6.5-6.5zM229.8 193.9l6.5 6.5-6.5 6.5-6.5-6.5zM301.2 155.8l6.5 6.5-6.5 6.5-6.5-6.5zM311.5 214.9l6.5 6.5-6.5 6.5-6.5-6.5zM423.4 193.8l6.5 6.5-6.5 6.5-6.5-6.5zM224.2 179.3l6.5 6.5-6.5 6.5-6.5-6.5zM373.3 227.6l6.5 6.5-6.5 6.5-6.5-6.5zM245.6 200.5l6.5 6.5-6.5 6.5-6.5-6.5zM401.2 266.1l6.5 6.5-6.5 6.5-6.5-6.5zM385.8 215.0l6.5 6.5-6.5 6.5-6.5-6.5zM360.6 216.2l6.5 6.5-6.5 6.5-6.5-6.5zM320.4 231.8l6.5 6.5-6.5 6.5-6.5-6.5zM225.5 180.5l6.5 6.5-6.5 6.5-6.5-6.5zM304.4 201.5l6.5 6.5-6.5 6.5-6.5-6.5zM293.7 180.7l6.5 6.5-6.5 6.5-6.5-6.5zM294.8 184.1l6.5 6.5-6.5 6.5-6.5-6.5zM287.4 151.6l6.5 6.5-6.5 6.5-6.5-6.5zM266.3 186.6l6.5 6.5-6.5 6.5-6.5-6.5zM399.1 187.3l6.5 6.5-6.5 6.5-6.5-6.5zM416.5 247.5l6.5 6.5-6.5 6.5-6.5-6.5zM377.9 185.7l6.5 6.5-6.5 6.5-6.5-6.5zM434.5 210.1l6.5 6.5-6.5 6.5-6.5-6.5zM345.0 179.7l6.5 6.5-6.5 6.5-6.5-6.5zM433.5 227.7l6.5 6.5-6.5 6.5-6.5-6.5zM354.1 213.4l6.5 6.5-6.5 6.5-6.5-6.5zM426.2 194.4l6.5 6.5-6.5 6.5-6.5-6.5zM242.0 134.9l6.5 6.5-6.5 6.5-6.5-6.5zM297.0 188.1l6.5 6.5-6.5 6.5-6.5-6.5zM393.3 254.5l6.5 6.5-6.5 6.5-6.5-6.5zM291.1 156.6l6.5 6.5-6.5 6.5-6.5-6.5zM373.6 185.9l6.5 6.5-6.5 6.5-6.5-6.5zM369.2 198.7l6.5 6.5-6.5 6.5-6.5-6.5zM376.8 181.6l6.5 6.5-6.5 6.5-6.5-6.5zM335.0 165.2l6.5 6.5-6.5 6.5-6.5-6.5zM267.7 157.9l6.5 6.5-6.5 6.5-6.5-6.5zM397.6 236.7l6.5 6.5-6.5 6.5-6.5-6.5zM422.1 215.9l6.5 6.5-6.5 6.5-6.5-6.5zM329.4 241.9l6.5 6.5-6.5 6.5-6.5-6.5zM387.9 167.4l6.5 6.5-6.5 6.5-6.5-6.5zM369.3 158.2l6.5 6.5-6.5 6.5-6.5-6.5zM220.8 141.5l6.5 6.5-6.5 6.5-6.5-6.5zM325.6 188.3l6.5 6.5-6.5 6.5-6.5-6.5zM381.0 253.1l6.5 6.5-6.5 6.5-6.5-6.5zM196.8 163.8l6.5 6.5-6.5 6.5-6.5-6.5zM348.6 235.7l6.5 6.5-6.5 6.5-6.5-6.5zM370.5 237.6l6.5 6.5-6.5 6.5-6.5-6.5zM275.0 135.2l6.5 6.5-6.5 6.5-6.5-6.5zM335.4 200.1l6.5 6.5-6.5 6.5-6.5-6.5zM331.3 236.6l6.5 6.5-6.5 6.5-6.5-6.5zM222.6 154.1l6.5 6.5-6.5 6.5-6.5-6.5zM297.9 197.9l6.5 6.5-6.5 6.5-6.5-6.5zM375.5 237.8l6.5 6.5-6.5 6.5-6.5-6.5zM372.2 172.1l6.5 6.5-6.5 6.5-6.5-6.5zM311.8 240.4l6.5 6.5-6.5 6.5-6.5-6.5zM275.5 194.1l6.5 6.5-6.5 6.5-6.5-6.5zM389.6 200.6l6.5 6.5-6.5 6.5-6.5-6.5zM400.2 161.8l6.5 6.5-6.5 6.5-6.5-6.5zM329.5 200.4l6.5 6.5-6.5 6.5-6.5-6.5zM298.7 200.9l6.5 6.5-6.5 6.5-6.5-6.5zM358.6 239.5l6.5 6.5-6.5 6.5-6.5-6.5zM231.7 196.8l6.5 6.5-6.5 6.5-6.5-6.5zM386.3 176.2l6.5 6.5-6.5 6.5-6.5-6.5zM395.5 220.0l6.5 6.5-6.5 6.5-6.5-6.5zM370.0 184.3l6.5 6.5-6.5 6.5-6.5-6.5zM409.9 201.1l6.5 6.5-6.5 6.5-6.5-6.5zM272.2 207.9l6.5 6.5-6.5 6.5-6.5-6.5zM380.9 242.5l6.5 6.5-6.5 6.5-6.5-6.5zM224.2 168.1l6.5 6.5-6.5 6.5-6.5-6.5zM409.0 263.1l6.5 6.5-6.5 6.5-6.5-6.5zM270.2 218.9l6.5 6.5-6.5 6.5-6.5-6.5zM371.2 225.2l6.5 6.5-6.5 6.5-6.5-6.5zM312.6 158.8l6.5 6.5-6.5 6.5-6.5-6.5zM313.2 210.0l6.5 6.5-6.5 6.5-6.5-6.5zM415.6 250.7l6.5 6.5-6.5 6.5-6.5-6.5zM404.2 190.2l6.5 6.5-6.5 6.5-6.5-6.5zM282.8 207.1l6.5 6.5-6.5 6.5-6.5-6.5zM277.6 161.8l6.5 6.5-6.5 6.5-6.5-6.5zM260.6 201.4l6.5 6.5-6.5 6.5-6.5-6.5zM438.2 250.4l6.5 6.5-6.5 6.5-6.5-6.5zM373.1 168.5l6.5 6.5-6.5 6.5-6.5-6.5zM331.6 203.6l6.5 6.5-6.5 6.5-6.5-6.5zM240.1 178.3l6.5 6.5-6.5 6.5-6.5-6.5zM416.0 251.1l6.5 6.5-6.5 6.5-6.5-6.5zM347.7 171.0l6.5 6.5-6.5 6.5-6.5-6.5zM274.1 188.2l6.5 6.5-6.5 6.5-6.5-6.5zM296.6 223.0l6.5 6.5-6.5 6.5-6.5-6.5zM366.2 171.9l6.5 6.5-6.5 6.5-6.5-6.5zM351.1 232.0l6.5 6.5-6.5 6.5-6.5-6.5zM314.9 220.8l6.5 6.5-6.5 6.5-6.5-6.5zM336.8 165.4l6.5 6.5-6.5 6.5-6.5-6.5zM355.9 229.0l6.5 6.5-6.5 6.5-6.5-6.5zM305.5 215.6l6.5 6.5-6.5 6.5-6.5-6.5zM385.7 212.2l6.5 6.5-6.5 6.5-6.5-6.5zM328.8 212.6l6.5 6.5-6.5 6.5-6.5-6.5zM285.0 210.6l6.5 6.5-6.5 6.5-6.5-6.5zM350.5 239.9l6.5 6.5-6.5 6.5-6.5-6.5zM367.0 212.3l6.5 6.5-6.5 6.5-6.5-6.5zM426.8 240.8l6.5 6.5-6.5 6.5-6.5-6.5zM402.4 236.9l6.5 6.5-6.5 6.5-6.5-6.5zM407.6 194.5l6.5 6.5-6.5 6.5-6.5-6.5zM392.5 238.7l6.5 6.5-6.5 6.5-6.5-6.5zM207.7 181.9l6.5 6.5-6.5 6.5-6.5-6.5zM374.5 195.1l6.5 6.5-6.5 6.5-6.5-6.5zM374.7 252.1l6.5 6.5-6.5 6.5-6.5-6.5zM412.5 228.8l6.5 6.5-6.5 6.5-6.5-6.5zM298.1 202.4l6.5 6.5-6.5 6.5-6.5-6.5zM217.2 162.8l6.5 6.5-6.5 6.5-6.5-6.5zM382.2 209.9l6.5 6.5-6.5 6.5-6.5-6.5zM379.7 242.5l6.5 6.5-6.5 6.5-6.5-6.5zM251.1 202.0l6.5 6.5-6.5 6.5-6.5-6.5zM342.1 213.3l6.5 6.5-6.5 6.5-6.5-6.5zM396.2 171.3l6.5 6.5-6.5 6.5-6.5-6.5zM446.9 237.3l6.5 6.5-6.5 6.5-6.5-6.5zM259.3 173.7l6.5 6.5-6.5 6.5-6.5-6.5zM255.4 164.8l6.5 6.5-6.5 6.5-6.5-6.5zM285.6 164.7l6.5 6.5-6.5 6.5-6.5-6.5zM409.7 228.9l6.5 6.5-6.5 6.5-6.5-6.5zM322.3 201.5l6.5 6.5-6.5 6.5-6.5-6.5zM275.0 210.3l6.5 6.5-6.5 6.5-6.5-6.5zM355.4 210.6l6.5 6.5-6.5 6.5-6.5-6.5zM409.8 248.5l6.5 6.5-6.5 6.5-6.5-6.5zM236.7 168.2l6.5 6.5-6.5 6.5-6.5-6.5zM415.6 241.5l6.5 6.5-6.5 6.5-6.5-6.5zM259.6 203.5l6.5 6.5-6.5 6.5-6.5-6.5zM252.8 173.7l6.5 6.5-6.5 6.5-6.5-6.5zM357.7 195.8l6.5 6.5-6.5 6.5-6.5-6.5zM331.0 140.8l6.5 6.5-6.5 6.5-6.5-6.5zM422.5 216.2l6.5 6.5-6.5 6.5-6.5-6.5zM249.0 206.2l6.5 6.5-6.5 6.5-6.5-6.5zM339.2 207.7l6.5 6.5-6.5 6.5-6.5-6.5zM294.9 180.1l6.5 6.5-6.5 6.5-6.5-6.5zM392.1 198.0l6.5 6.5-6.5 6.5-6.5-6.5zM444.4 232.3l6.5 6.5-6.5 6.5-6.5-6.5zM339.8 182.6l6.5 6.5-6.5 6.5-6.5-6.5zM376.5 190.3l6.5 6.5-6.5 6.5-6.5-6.5zM375.7 226.8l6.5 6.5-6.5 6.5-6.5-6.5zM308.2 169.9l6.5 6.5-6.5 6.5-6.5-6.5zM314.2 197.0l6.5 6.5-6.5 6.5-6.5-6.5zM219.4 189.5l6.5 6.5-6.5 6.5-6.5-6.5zM236.6 183.3l6.5 6.5-6.5 6.5-6.5-6.5zM322.0 196.7l6.5 6.5-6.5 6.5-6.5-6.5zM265.1 169.0l6.5 6.5-6.5 6.5-6.5-6.5zM245.6 171.7l6.5 6.5-6.5 6.5-6.5-6.5zM358.9 206.7l6.5 6.5-6.5 6.5-6.5-6.5zM330.9 204.7l6.5 6.5-6.5 6.5-6.5-6.5zM377.3 237.4l6.5 6.5-6.5 6.5-6.5-6.5zM316.3 154.5l6.5 6.5-6.5 6.5-6.5-6.5zM419.4 203.4l6.5 6.5-6.5 6.5-6.5-6.5zM231.2 188.9l6.5 6.5-6.5 6.5-6.5-6.5zM380.1 193.4l6.5 6.5-6.5 6.5-6.5-6.5zM234.8 151.7l6.5 6.5-6.5 6.5-6.5-6.5zM325.2 204.8l6.5 6.5-6.5 6.5-6.5-6.5zM209.9 174.7l6.5 6.5-6.5 6.5-6.5-6.5zM423.1 184.4l6.5 6.5-6.5 6.5-6.5-6.5zM310.6 194.7l6.5 6.5-6.5 6.5-6.5-6.5zM284.2 225.6l6.5 6.5-6.5 6.5-6.5-6.5zM326.1 198.1l6.5 6.5-6.5 6.5-6.5-6.5zM342.8 183.6l6.5 6.5-6.5 6.5-6.5-6.5zM407.9 221.7l6.5 6.5-6.5 6.5-6.5-6.5zM443.9 248.5l6.5 6.5-6.5 6.5-6.5-6.5zM397.9 232.6l6.5 6.5-6.5 6.5-6.5-6.5zM222.8 148.0l6.5 6.5-6.5 6.5-6.5-6.5zM350.7 211.2l6.5 6.5-6.5 6.5-6.5-6.5zM425.2 201.7l6.5 6.5-6.5 6.5-6.5-6.5zM351.6 234.0l6.5 6.5-6.5 6.5-6.5-6.5zM399.1 199.2l6.5 6.5-6.5 6.5-6.5-6.5zM442.6 204.6l6.5 6.5-6.5 6.5-6.5-6.5zM339.0 247.1l6.5 6.5-6.5 6.5-6.5-6.5zM275.5 187.9l6.5 6.5-6.5 6.5-6.5-6.5zM273.7 207.4l6.5 6.5-6.5 6.5-6.5-6.5zM313.5 212.1l6.5 6.5-6.5 6.5-6.5-6.5zM258.6 193.6l6.5 6.5-6.5 6.5-6.5-6.5zM321.9 169.6l6.5 6.5-6.5 6.5-6.5-6.5zM368.6 166.7l6.5 6.5-6.5 6.5-6.5-6.5zM369.0 205.2l6.5 6.5-6.5 6.5-6.5-6.5zM248.4 154.3l6.5 6.5-6.5 6.5-6.5-6.5zM358.4 203.3l6.5 6.5-6.5 6.5-6.5-6.5zM313.9 194.7l6.5 6.5-6.5 6.5-6.5-6.5zM347.2 215.6l6.5 6.5-6.5 6.5-6.5-6.5zM312.5 240.1l6.5 6.5-6.5 6.5-6.5-6.5zM219.3 203.8l6.5 6.5-6.5 6.5-6.5-6.5zM311.6 157.2l6.5 6.5-6.5 6.5-6.5-6.5zM317.8 216.5l6.5 6.5-6.5 6.5-6.5-6.5zM418.1 235.0l6.5 6.5-6.5 6.5-6.5-6.5zM374.9 210.7l6.5 6.5-6.5 6.5-6.5-6.5zM364.8 195.4l6.5 6.5-6.5 6.5-6.5-6.5zM339.7 193.7l6.5 6.5-6.5 6.5-6.5-6.5zM320.0 174.0l6.5 6.5-6.5 6.5-6.5-6.5zM197.8 169.0l6.5 6.5-6.5 6.5-6.5-6.5zM361.3 208.3l6.5 6.5-6.5 6.5-6.5-6.5zM333.1 231.8l6.5 6.5-6.5 6.5-6.5-6.5zM258.2 178.2l6.5 6.5-6.5 6.5-6.5-6.5zM370.3 190.4l6.5 6.5-6.5 6.5-6.5-6.5zM321.3 154.6l6.5 6.5-6.5 6.5-6.5-6.5zM263.9 194.2l6.5 6.5-6.5 6.5-6.5-6.5zM440.8 232.7l6.5 6.5-6.5 6.5-6.5-6.5zM439.3 214.7l6.5 6.5-6.5 6.5-6.5-6.5zM302.6 208.8l6.5 6.5-6.5 6.5-6.5-6.5zM417.6 253.3l6.5 6.5-6.5 6.5-6.5-6.5zM360.4 216.0l6.5 6.5-6.5 6.5-6.5-6.5zM242.7 212.9l6.5 6.5-6.5 6.5-6.5-6.5zM337.9 229.0l6.5 6.5-6.5 6.5-6.5-6.5zM406.8 237.0l6.5 6.5-6.5 6.5-6.5-6.5zM378.3 199.4l6.5 6.5-6.5 6.5-6.5-6.5zM401.6 212.0l6.5 6.5-6.5 6.5-6.5-6.5zM238.4 166.9l6.5 6.5-6.5 6.5-6.5-6.5zM415.3 235.6l6.5 6.5-6.5 6.5-6.5-6.5zM208.0 165.3l6.5 6.5-6.5 6.5-6.5-6.5zM330.6 212.2l6.5 6.5-6.5 6.5-6.5-6.5zM264.1 195.9l6.5 6.5-6.5 6.5-6.5-6.5zM399.7 181.5l6.5 6.5-6.5 6.5-6.5-6.5zM305.1 179.3l6.5 6.5-6.5 6.5-6.5-6.5zM270.0 181.6l6.5 6.5-6.5 6.5-6.5-6.5zM299.0 224.3l6.5 6.5-6.5 6.5-6.5-6.5zM310.7 200.8l6.5 6.5-6.5 6.5-6.5-6.5zM361.6 181.0l6.5 6.5-6.5 6.5-6.5-6.5zM221.2 137.2l6.5 6.5-6.5 6.5-6.5-6.5zM239.7 217.1l6.5 6.5-6.5 6.5-6.5-6.5zM255.9 142.9l6.5 6.5-6.5 6.5-6.5-6.5zM369.4 204.2l6.5 6.5-6.5 6.5-6.5-6.5zM402.7 219.2l6.5 6.5-6.5 6.5-6.5-6.5zM350.0 216.3l6.5 6.5-6.5 6.5-6.5-6.5zM289.1 213.5l6.5 6.5-6.5 6.5-6.5-6.5zM393.2 248.5l6.5 6.5-6.5 6.5-6.5-6.5zM288.7 194.0l6.5 6.5-6.5 6.5-6.5-6.5zM419.2 209.9l6.5 6.5-6.5 6.5-6.5-6.5zM305.4 180.3l6.5 6.5-6.5 6.5-6.5-6.5zM334.5 157.1l6.5 6.5-6.5 6.5-6.5-6.5zM418.3 203.6l6.5 6.5-6.5 6.5-6.5-6.5zM268.4 203.9l6.5 6.5-6.5 6.5-6.5-6.5zM360.4 200.5l6.5 6.5-6.5 6.5-6.5-6.5zM212.8 189.9l6.5 6.5-6.5 6.5-6.5-6.5zM252.4 212.8l6.5 6.5-6.5 6.5-6.5-6.5zM336.8 179.7l6.5 6.5-6.5 6.5-6.5-6.5zM342.7 168.3l6.5 6.5-6.5 6.5-6.5-6.5zM335.6 145.5l6.5 6.5-6.5 6.5-6.5-6.5zM338.9 117.2l6.5 6.5-6.5 6.5-6.5-6.5zM319.1 247.5l6.5 6.5-6.5 6.5-6.5-6.5zM409.1 188.3l6.5 6.5-6.5 6.5-6.5-6.5zM352.6 224.8l6.5 6.5-6.5 6.5-6.5-6.5zM268.8 220.4l6.5 6.5-6.5 6.5-6.5-6.5zM424.4 242.4l6.5 6.5-6.5 6.5-6.5-6.5zM362.2 198.1l6.5 6.5-6.5 6.5-6.5-6.5zM368.2 178.1l6.5 6.5-6.5 6.5-6.5-6.5zM324.0 198.1l6.5 6.5-6.5 6.5-6.5-6.5zM299.1 221.5l6.5 6.5-6.5 6.5-6.5-6.5zM389.9 198.7l6.5 6.5-6.5 6.5-6.5-6.5zM420.8 248.7l6.5 6.5-6.5 6.5-6.5-6.5zM386.8 239.6l6.5 6.5-6.5 6.5-6.5-6.5zM279.2 194.2l6.5 6.5-6.5 6.5-6.5-6.5zM293.9 179.5l6.5 6.5-6.5 6.5-6.5-6.5zM317.6 224.0l6.5 6.5-6.5 6.5-6.5-6.5zM364.2 191.0l6.5 6.5-6.5 6.5-6.5-6.5zM349.9 142.9l6.5 6.5-6.5 6.5-6.5-6.5zM375.0 240.1l6.5 6.5-6.5 6.5-6.5-6.5zM418.8 201.3l6.5 6.5-6.5 6.5-6.5-6.5zM289.5 188.0l6.5 6.5-6.5 6.5-6.5-6.5zM341.0 242.7l6.5 6.5-6.5 6.5-6.5-6.5zM412.3 193.2l6.5 6.5-6.5 6.5-6.5-6.5zM297.6 226.3l6.5 6.5-6.5 6.5-6.5-6.5zM333.8 225.3l6.5 6.5-6.5 6.5-6.5-6.5zM316.0 188.4l6.5 6.5-6.5 6.5-6.5-6.5zM211.0 193.6l6.5 6.5-6.5 6.5-6.5-6.5zM345.2 154.7l6.5 6.5-6.5 6.5-6.5-6.5zM177.6 169.4l6.5 6.5-6.5 6.5-6.5-6.5zM197.0 170.3l6.5 6.5-6.5 6.5-6.5-6.5zM212.7 221.2l6.5 6.5-6.5 6.5-6.5-6.5zM211.0 212.5l6.5 6.5-6.5 6.5-6.5-6.5zM177.6 218.5l6.5 6.5-6.5 6.5-6.5-6.5zM197.8 211.5l6.5 6.5-6.5 6.5-6.5-6.5zM197.0 197.5l6.5 6.5-6.5 6.5-6.5-6.5zM184.6 194.9l6.5 6.5-6.5 6.5-6.5-6.5zM197.8 186.1l6.5 6.5-6.5 6.5-6.5-6.5zM188.0 186.1l6.5 6.5-6.5 6.5-6.5-6.5zM182.0 188.7l6.5 6.5-6.5 6.5-6.5-6.5zM163.5 186.1l6.5 6.5-6.5 6.5-6.5-6.5zM171.4 176.4l6.5 6.5-6.5 6.5-6.5-6.5zM200.4 150.5l6.5 6.5-6.5 6.5-6.5-6.5zM195.0 155.5l6.5 6.5-6.5 6.5-6.5-6.5zM190.0 166.2l6.5 6.5-6.5 6.5-6.5-6.5zM181.0 160.9l6.5 6.5-6.5 6.5-6.5-6.5zM167.0 160.9l6.5 6.5-6.5 6.5-6.5-6.5zM161.8 151.3l6.5 6.5-6.5 6.5-6.5-6.5zM174.0 157.5l6.5 6.5-6.5 6.5-6.5-6.5zM193.4 145.1l6.5 6.5-6.5 6.5-6.5-6.5zM209.2 126.7l6.5 6.5-6.5 6.5-6.5-6.5zM201.3 125.8l6.5 6.5-6.5 6.5-6.5-6.5zM177.6 130.2l6.5 6.5-6.5 6.5-6.5-6.5zM167.0 119.5l6.5 6.5-6.5 6.5-6.5-6.5zM296.4 135.7l6.5 6.5-6.5 6.5-6.5-6.5zM310.4 135.7l6.5 6.5-6.5 6.5-6.5-6.5zM321.0 135.7l6.5 6.5-6.5 6.5-6.5-6.5zM331.5 139.2l6.5 6.5-6.5 6.5-6.5-6.5zM349.1 144.5l6.5 6.5-6.5 6.5-6.5-6.5zM373.7 141.8l6.5 6.5-6.5 6.5-6.5-6.5zM379.0 138.3l6.5 6.5-6.5 6.5-6.5-6.5zM352.6 133.9l6.5 6.5-6.5 6.5-6.5-6.5zM275.3 123.4l6.5 6.5-6.5 6.5-6.5-6.5zM270.0 128.6l6.5 6.5-6.5 6.5-6.5-6.5zM280.5 128.6l6.5 6.5-6.5 6.5-6.5-6.5zM299.9 124.3l6.5 6.5-6.5 6.5-6.5-6.5zM313.9 126.0l6.5 6.5-6.5 6.5-6.5-6.5zM305.1 125.1l6.5 6.5-6.5 6.5-6.5-6.5zM340.3 119.9l6.5 6.5-6.5 6.5-6.5-6.5zM326.2 121.6l6.5 6.5-6.5 6.5-6.5-6.5zM341.2 112.0l6.5 6.5-6.5 6.5-6.5-6.5zM330.6 114.6l6.5 6.5-6.5 6.5-6.5-6.5zM315.7 115.5l6.5 6.5-6.5 6.5-6.5-6.5zM294.6 119.9l6.5 6.5-6.5 6.5-6.5-6.5zM280.5 119.9l6.5 6.5-6.5 6.5-6.5-6.5zM271.8 112.8l6.5 6.5-6.5 6.5-6.5-6.5zM357.0 109.0l6.5 6.5-6.5 6.5-6.5-6.5zM353.5 103.2l6.5 6.5-6.5 6.5-6.5-6.5zM380.7 101.4l6.5 6.5-6.5 6.5-6.5-6.5zM301.6 98.4l6.5 6.5-6.5 6.5-6.5-6.5zM294.6 101.9l6.5 6.5-6.5 6.5-6.5-6.5zM447.5 260.2l6.5 6.5-6.5 6.5-6.5-6.5zM440.4 260.2l6.5 6.5-6.5 6.5-6.5-6.5zM400.0 269.9l6.5 6.5-6.5 6.5-6.5-6.5zM401.8 261.1l6.5 6.5-6.5 6.5-6.5-6.5zM403.5 248.8l6.5 6.5-6.5 6.5-6.5-6.5zM426.4 248.8l6.5 6.5-6.5 6.5-6.5-6.5zM448.3 250.5l6.5 6.5-6.5 6.5-6.5-6.5zM442.2 247.0l6.5 6.5-6.5 6.5-6.5-6.5zM433.4 247.0l6.5 6.5-6.5 6.5-6.5-6.5zM443.9 255.8l6.5 6.5-6.5 6.5-6.5-6.5zM435.1 252.3l6.5 6.5-6.5 6.5-6.5-6.5zM428.1 258.4l6.5 6.5-6.5 6.5-6.5-6.5zM410.5 250.5l6.5 6.5-6.5 6.5-6.5-6.5zM417.6 254.0l6.5 6.5-6.5 6.5-6.5-6.5zM413.2 263.7l6.5 6.5-6.5 6.5-6.5-6.5zM509.8 304.1l6.5 6.5-6.5 6.5-6.5-6.5zM443.9 302.4l6.5 6.5-6.5 6.5-6.5-6.5zM441.3 298.0l6.5 6.5-6.5 6.5-6.5-6.5zM414.1 298.0l6.5 6.5-6.5 6.5-6.5-6.5zM403.5 278.6l6.5 6.5-6.5 6.5-6.5-6.5zM437.4 280.8l6.5 6.5-6.5 6.5-6.5-6.5zM430.8 272.5l6.5 6.5-6.5 6.5-6.5-6.5zM442.2 264.6l6.5 6.5-6.5 6.5-6.5-6.5zM451.8 263.7l6.5 6.5-6.5 6.5-6.5-6.5zM454.5 251.4l6.5 6.5-6.5 6.5-6.5-6.5zM465.9 291.0l6.5 6.5-6.5 6.5-6.5-6.5zM470.8 270.7l6.5 6.5-6.5 6.5-6.5-6.5zM470.3 265.5l6.5 6.5-6.5 6.5-6.5-6.5zM485.2 255.5l6.5 6.5-6.5 6.5-6.5-6.5zM473.8 251.4l6.5 6.5-6.5 6.5-6.5-6.5zM466.8 244.4l6.5 6.5-6.5 6.5-6.5-6.5zM450.0 245.5l6.5 6.5-6.5 6.5-6.5-6.5zM452.7 226.3l6.5 6.5-6.5 6.5-6.5-6.5zM486.1 235.1l6.5 6.5-6.5 6.5-6.5-6.5zM477.3 232.4l6.5 6.5-6.5 6.5-6.5-6.5zM458.9 236.0l6.5 6.5-6.5 6.5-6.5-6.5zM465.0 231.5l6.5 6.5-6.5 6.5-6.5-6.5zM461.5 223.7l6.5 6.5-6.5 6.5-6.5-6.5zM465.0 191.1l6.5 6.5-6.5 6.5-6.5-6.5zM432.7 258.5l6.5 6.5-6.5 6.5-6.5-6.5zM450.3 315.1l6.5 6.5-6.5 6.5-6.5-6.5zM524.4 303.8l6.5 6.5-6.5 6.5-6.5-6.5zM541.5 274.1l6.5 6.5-6.5 6.5-6.5-6.5zM321.7 256.0l6.5 6.5-6.5 6.5-6.5-6.5zM344.3 258.5l6.5 6.5-6.5 6.5-6.5-6.5zM387.0 268.6l6.5 6.5-6.5 6.5-6.5-6.5zM394.6 281.1l6.5 6.5-6.5 6.5-6.5-6.5zM393.3 289.9l6.5 6.5-6.5 6.5-6.5-6.5zM384.5 276.1l6.5 6.5-6.5 6.5-6.5-6.5zM355.6 262.3l6.5 6.5-6.5 6.5-6.5-6.5zM366.9 263.5l6.5 6.5-6.5 6.5-6.5-6.5zM359.4 269.8l6.5 6.5-6.5 6.5-6.5-6.5zM350.1 280.6l6.5 6.5-6.5 6.5-6.5-6.5zM333.0 261.0l6.5 6.5-6.5 6.5-6.5-6.5zM323.0 264.8l6.5 6.5-6.5 6.5-6.5-6.5zM306.6 283.7l6.5 6.5-6.5 6.5-6.5-6.5zM293.3 286.7l6.5 6.5-6.5 6.5-6.5-6.5zM273.2 282.9l6.5 6.5-6.5 6.5-6.5-6.5zM294.8 258.0l6.5 6.5-6.5 6.5-6.5-6.5zM280.3 263.5l6.5 6.5-6.5 6.5-6.5-6.5zM281.5 269.8l6.5 6.5-6.5 6.5-6.5-6.5zM280.3 257.3l6.5 6.5-6.5 6.5-6.5-6.5zM257.6 257.3l6.5 6.5-6.5 6.5-6.5-6.5zM442.5 236.2l6.5 6.5-6.5 6.5-6.5-6.5zM446.3 219.8l6.5 6.5-6.5 6.5-6.5-6.5zM447.5 228.6l6.5 6.5-6.5 6.5-6.5-6.5zM490.3 238.7l6.5 6.5-6.5 6.5-6.5-6.5zM478.9 224.9l6.5 6.5-6.5 6.5-6.5-6.5zM525.4 243.2l6.5 6.5-6.5 6.5-6.5-6.5zM538.5 226.6l6.5 6.5-6.5 6.5-6.5-6.5zM530.5 222.3l6.5 6.5-6.5 6.5-6.5-6.5zM512.4 224.9l6.5 6.5-6.5 6.5-6.5-6.5zM452.6 207.3l6.5 6.5-6.5 6.5-6.5-6.5zM471.4 216.1l6.5 6.5-6.5 6.5-6.5-6.5zM469.6 207.3l6.5 6.5-6.5 6.5-6.5-6.5zM487.7 218.6l6.5 6.5-6.5 6.5-6.5-6.5zM492.8 212.3l6.5 6.5-6.5 6.5-6.5-6.5zM502.8 204.8l6.5 6.5-6.5 6.5-6.5-6.5zM297.6 242.4l6.5 6.5-6.5 6.5-6.5-6.5zM288.8 243.7l6.5 6.5-6.5 6.5-6.5-6.5zM260.8 226.1l6.5 6.5-6.5 6.5-6.5-6.5zM248.2 234.9l6.5 6.5-6.5 6.5-6.5-6.5zM254.5 247.5l6.5 6.5-6.5 6.5-6.5-6.5zM245.7 249.2l6.5 6.5-6.5 6.5-6.5-6.5zM250.8 222.3l6.5 6.5-6.5 6.5-6.5-6.5zM240.7 219.8l6.5 6.5-6.5 6.5-6.5-6.5zM229.4 241.2l6.5 6.5-6.5 6.5-6.5-6.5zM237.0 231.1l6.5 6.5-6.5 6.5-6.5-6.5zM230.7 216.1l6.5 6.5-6.5 6.5-6.5-6.5zM225.6 223.6l6.5 6.5-6.5 6.5-6.5-6.5zM190.5 236.7l6.5 6.5-6.5 6.5-6.5-6.5zM440.0 181.3l6.5 6.5-6.5 6.5-6.5-6.5zM446.3 198.9l6.5 6.5-6.5 6.5-6.5-6.5zM443.8 193.9l6.5 6.5-6.5 6.5-6.5-6.5zM467.6 199.4l6.5 6.5-6.5 6.5-6.5-6.5zM483.2 192.6l6.5 6.5-6.5 6.5-6.5-6.5zM479.7 167.5l6.5 6.5-6.5 6.5-6.5-6.5zM470.7 181.8l6.5 6.5-6.5 6.5-6.5-6.5zM450.0 178.8l6.5 6.5-6.5 6.5-6.5-6.5zM433.3 175.0l6.5 6.5-6.5 6.5-6.5-6.5zM418.7 146.1l6.5 6.5-6.5 6.5-6.5-6.5zM407.0 138.6l6.5 6.5-6.5 6.5-6.5-6.5zM195.5 166.2l6.5 6.5-6.5 6.5-6.5-6.5zM167.8 178.8l6.5 6.5-6.5 6.5-6.5-6.5zM124.4 196.4l6.5 6.5-6.5 6.5-6.5-6.5zM175.4 163.7l6.5 6.5-6.5 6.5-6.5-6.5zM162.8 156.2l6.5 6.5-6.5 6.5-6.5-6.5zM155.8 149.9l6.5 6.5-6.5 6.5-6.5-6.5zM133.4 143.6l6.5 6.5-6.5 6.5-6.5-6.5zM406.6 106.4l6.5 6.5-6.5 6.5-6.5-6.5zM261.7 107.6l6.5 6.5-6.5 6.5-6.5-6.5zM259.2 95.8l6.5 6.5-6.5 6.5-6.5-6.5zM239.8 101.3l6.5 6.5-6.5 6.5-6.5-6.5zM227.8 91.3l6.5 6.5-6.5 6.5-6.5-6.5zM213.2 111.4l6.5 6.5-6.5 6.5-6.5-6.5zM193.9 108.4l6.5 6.5-6.5 6.5-6.5-6.5zM199.6 93.8l6.5 6.5-6.5 6.5-6.5-6.5zM176.3 68.2l6.5 6.5-6.5 6.5-6.5-6.5zM123.1 94.1l6.5 6.5-6.5 6.5-6.5-6.5zM127.1 68.7l6.5 6.5-6.5 6.5-6.5-6.5zM429.2 265.5l6.5 6.5-6.5 6.5-6.5-6.5zM457.3 226.9l6.5 6.5-6.5 6.5-6.5-6.5zM446.8 239.2l6.5 6.5-6.5 6.5-6.5-6.5zM267.8 228.6l6.5 6.5-6.5 6.5-6.5-6.5zM236.2 216.3l6.5 6.5-6.5 6.5-6.5-6.5zM425.7 211.3l6.5 6.5-6.5 6.5-6.5-6.5zM436.2 206.1l6.5 6.5-6.5 6.5-6.5-6.5zM443.2 225.4l6.5 6.5-6.5 6.5-6.5-6.5zM445.0 188.5l6.5 6.5-6.5 6.5-6.5-6.5zM413.4 158.5l6.5 6.5-6.5 6.5-6.5-6.5zM402.8 154.5l6.5 6.5-6.5 6.5-6.5-6.5zM394.0 155.1l6.5 6.5-6.5 6.5-6.5-6.5zM369.1 164.3l6.5 6.5-6.5 6.5-6.5-6.5zM203.9 174.9l6.5 6.5-6.5 6.5-6.5-6.5zM202.2 185.4l6.5 6.5-6.5 6.5-6.5-6.5zM189.9 159.0l6.5 6.5-6.5 6.5-6.5-6.5zM202.2 139.7l6.5 6.5-6.5 6.5-6.5-6.5zM268.9 132.7l6.5 6.5-6.5 6.5-6.5-6.5zM265.4 116.9l6.5 6.5-6.5 6.5-6.5-6.5zM254.9 122.2l6.5 6.5-6.5 6.5-6.5-6.5zM249.6 132.7l6.5 6.5-6.5 6.5-6.5-6.5zM242.6 125.7l6.5 6.5-6.5 6.5-6.5-6.5zM230.3 122.2l6.5 6.5-6.5 6.5-6.5-6.5zM223.2 129.2l6.5 6.5-6.5 6.5-6.5-6.5zM216.2 136.2l6.5 6.5-6.5 6.5-6.5-6.5z" fill="#5B9BD5"/>
<rect x="76.3" y="191.0" width="13.0" height="13.0" rx="0.7" fill="#ED7D31"/>
<rect x="141.6" y="175.5" width="13.0" height="13.0" rx="0.7" fill="#ED7D31"/>
<rect x="206.8" y="160.1" width="13.0" height="13.0" rx="0.7" fill="#ED7D31"/>
<rect x="272.0" y="144.7" width="13.0" height="13.0" rx="0.7" fill="#ED7D31"/>
<rect x="337.3" y="129.3" width="13.0" height="13.0" rx="0.7" fill="#ED7D31"/>
<rect x="402.5" y="113.8" width="13.0" height="13.0" rx="0.7" fill="#ED7D31"/>
<rect x="467.7" y="98.4" width="13.0" height="13.0" rx="0.7" fill="#ED7D31"/>
<rect x="533.0" y="83.0" width="13.0" height="13.0" rx="0.7" fill="#ED7D31"/>
<rect x="598.2" y="67.6" width="13.0" height="13.0" rx="0.7" fill="#ED7D31"/>
<line x1="82.8" y1="197.5" x2="604.7" y2="74.1" stroke="#000" stroke-width="1.1"/>
<text x="17.6" y="175.9" font-size="16.7" text-anchor="middle">-0.08</text>
<text x="82.8" y="175.9" font-size="16.7" text-anchor="middle">-0.06</text>
<text x="148.1" y="175.9" font-size="16.7" text-anchor="middle">-0.04</text>
<text x="213.3" y="175.9" font-size="16.7" text-anchor="middle">-0.02</text>
<text x="278.5" y="175.9" font-size="16.7" text-anchor="middle">0</text>
<text x="343.8" y="175.9" font-size="16.7" text-anchor="middle">0.02</text>
<text x="409.0" y="175.9" font-size="16.7" text-anchor="middle">0.04</text>
<text x="474.2" y="175.9" font-size="16.7" text-anchor="middle">0.06</text>
<text x="539.5" y="175.9" font-size="16.7" text-anchor="middle">0.08</text>
<text x="604.7" y="175.9" font-size="16.7" text-anchor="middle">0.1</text>
<text x="670.0" y="175.9" font-size="16.7" text-anchor="middle">0.12</text>
<text x="264.5" y="63.7" font-size="16.7" text-anchor="end">60000</text>
<text x="264.5" y="94.6" font-size="16.7" text-anchor="end">40000</text>
<text x="264.5" y="125.6" font-size="16.7" text-anchor="end">20000</text>
<text x="264.5" y="156.5" font-size="16.7" text-anchor="end">0</text>
<text x="264.5" y="187.5" font-size="16.7" text-anchor="end">-20000</text>
<text x="264.5" y="218.4" font-size="16.7" text-anchor="end">-40000</text>
<text x="264.5" y="249.3" font-size="16.7" text-anchor="end">-60000</text>
<text x="264.5" y="280.3" font-size="16.7" text-anchor="end">-80000</text>
<text x="264.5" y="311.2" font-size="16.7" text-anchor="end">-100000</text>
<text x="264.5" y="342.2" font-size="16.7" text-anchor="end">-120000</text>
<text x="355.9" y="76.1" font-size="16.7" font-weight="bold">Incremental cost</text>
<text x="527.5" y="143.8" font-size="16.7" font-weight="bold">Incremental effect</text>
<text x="100.6" y="21" font-size="23.1" font-weight="bold" word-spacing="1.25">CE-plane <tspan dx="1">for</tspan> <tspan dx="0.3">patients</tspan> <tspan dx="0.9">under</tspan> <tspan dx="-0.7">65</tspan> <tspan dx="-0.8">including</tspan> <tspan dx="-0.4">all</tspan> <tspan dx="-0.3">costs</tspan></text>
</svg></body></html>
